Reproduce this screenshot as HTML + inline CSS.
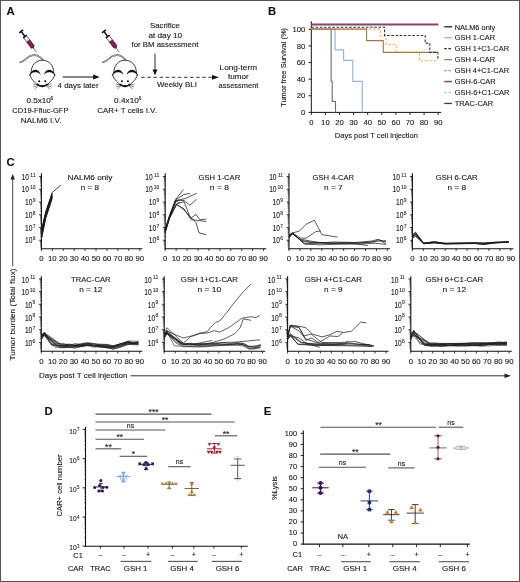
<!DOCTYPE html>
<html><head><meta charset="utf-8"><style>
html,body{margin:0;padding:0;background:#fff;}
svg{display:block;font-family:"Liberation Sans", sans-serif;will-change:transform;}
text{stroke:#1a1a1a;stroke-width:0.12px;}
</style></head><body>
<svg width="520" height="582" viewBox="0 0 520 582">
<rect width="520" height="582" fill="#fff"/>
<rect x="0.5" y="0.5" width="519" height="581" fill="none" stroke="#555" stroke-width="1"/>
<text x="6.6" y="15.4" font-size="11.3" text-anchor="start" font-weight="bold" fill="#111" >A</text>
<text x="268" y="15.2" font-size="11.3" text-anchor="start" font-weight="bold" fill="#111" >B</text>
<text x="6.6" y="165.5" font-size="11.3" text-anchor="start" font-weight="bold" fill="#111" >C</text>
<text x="44.6" y="414.6" font-size="11.3" text-anchor="start" font-weight="bold" fill="#111" >D</text>
<text x="263.8" y="414.6" font-size="11.3" text-anchor="start" font-weight="bold" fill="#111" >E</text>
<g transform="translate(21.2,31.4) rotate(53.53)"><line x1="0" y1="-2.4" x2="0" y2="2.4" stroke="#111" stroke-width="1.6"/><line x1="0" y1="0" x2="6.3" y2="0" stroke="#111" stroke-width="1.5"/><line x1="6.3" y1="-2.3" x2="6.3" y2="2.3" stroke="#111" stroke-width="1.4"/><rect x="6.9" y="-1.8" width="12.6" height="3.6" fill="#eef7f6" stroke="#2a2a2a" stroke-width="0.65"/><rect x="11.8" y="-1.8" width="7.7" height="3.6" fill="#8c1c55" stroke="#3a1025" stroke-width="0.5"/><path d="M19.5,-1.3 L21.2,-0.5 L21.2,0.5 L19.5,1.3 Z" fill="#333"/><line x1="21.2" y1="0" x2="25.8" y2="0" stroke="#333" stroke-width="0.65"/></g>
<g transform="translate(103.9,31.4) rotate(53.53)"><line x1="0" y1="-2.4" x2="0" y2="2.4" stroke="#111" stroke-width="1.6"/><line x1="0" y1="0" x2="6.3" y2="0" stroke="#111" stroke-width="1.5"/><line x1="6.3" y1="-2.3" x2="6.3" y2="2.3" stroke="#111" stroke-width="1.4"/><rect x="6.9" y="-1.8" width="12.6" height="3.6" fill="#eef7f6" stroke="#2a2a2a" stroke-width="0.65"/><rect x="11.8" y="-1.8" width="7.7" height="3.6" fill="#8c1c55" stroke="#3a1025" stroke-width="0.5"/><path d="M19.5,-1.3 L21.2,-0.5 L21.2,0.5 L19.5,1.3 Z" fill="#333"/><line x1="21.2" y1="0" x2="25.8" y2="0" stroke="#333" stroke-width="0.65"/></g>
<g transform="translate(0,0)" stroke-linecap="round"><path d="M20.1,62.2 C22.5,61.7 24.6,60.4 26.2,58.8 C27.8,57.2 29.8,55.9 32.2,55.4 C34.6,54.9 37,55.3 39,56.5 C40.6,57.4 42.1,58.9 43.6,60.7" fill="none" stroke="#4a4a4a" stroke-width="1.6"/><path d="M20.7,61.95 C22.5,61.7 24.6,60.4 26.2,58.8 C27.8,57.2 29.8,55.9 32.2,55.4 C34.6,54.9 37,55.3 39,56.5 C40.6,57.4 42.1,58.9 43.6,60.7" fill="none" stroke="#fff" stroke-width="0.6"/><path d="M31.1,73 C30.9,65.2 36,60.2 42.4,60.2 C48.8,60.2 53.9,65.2 53.7,73" fill="#fff" stroke="#1a1a1a" stroke-width="0.85"/><path d="M29.9,74.8 C30.2,77.8 33.2,80.7 36,83.5 C38,85.5 40.4,86.7 42.3,86.7 C44.3,86.7 46.7,85.5 48.7,83.4 C51.4,80.7 54.4,77.8 54.7,74.8 C50,73 35,73 29.9,74.8 Z" fill="#fff" stroke="none"/><path d="M29.9,74.8 C30.2,77.8 33.2,80.7 36,83.5 C38,85.5 40.4,86.7 42.3,86.7 C44.3,86.7 46.7,85.5 48.7,83.4 C51.4,80.7 54.4,77.8 54.7,74.8" fill="none" stroke="#1a1a1a" stroke-width="0.85"/><path d="M29.7,75.4 C30.1,71.6 33.8,69.5 36.4,70.1 C38.3,70.6 39.8,72.2 40.3,74.3 C38.9,72.7 37.1,71.9 35.2,72 C32.8,72.1 30.8,73.4 29.7,75.4 Z" fill="#111" stroke="#111" stroke-width="0.35"/><path d="M54.9,75.4 C54.5,71.6 50.8,69.5 48.2,70.1 C46.3,70.6 44.8,72.2 44.3,74.3 C45.7,72.7 47.5,71.9 49.4,72 C51.8,72.1 53.8,73.4 54.9,75.4 Z" fill="#111" stroke="#111" stroke-width="0.35"/><circle cx="39.2" cy="81.2" r="1.05" fill="#111"/><circle cx="45.2" cy="81.2" r="1.05" fill="#111"/><path d="M37.6,84.2 C39.8,86.6 44.8,86.6 47.0,84.2" fill="none" stroke="#111" stroke-width="1.5"/><circle cx="42.3" cy="86.2" r="1.15" fill="#111"/><g stroke="#222" stroke-width="0.55" fill="none"><path d="M38.0,84.8 L33.4,84.1 M38.0,85.3 L33.6,86.8 M38.4,85.8 L35.0,88.6"/><path d="M46.6,84.8 L51.2,84.1 M46.6,85.3 L51.0,86.8 M46.2,85.8 L49.6,88.6"/></g></g>
<g transform="translate(82.7,0)" stroke-linecap="round"><path d="M20.1,62.2 C22.5,61.7 24.6,60.4 26.2,58.8 C27.8,57.2 29.8,55.9 32.2,55.4 C34.6,54.9 37,55.3 39,56.5 C40.6,57.4 42.1,58.9 43.6,60.7" fill="none" stroke="#4a4a4a" stroke-width="1.6"/><path d="M20.7,61.95 C22.5,61.7 24.6,60.4 26.2,58.8 C27.8,57.2 29.8,55.9 32.2,55.4 C34.6,54.9 37,55.3 39,56.5 C40.6,57.4 42.1,58.9 43.6,60.7" fill="none" stroke="#fff" stroke-width="0.6"/><path d="M31.1,73 C30.9,65.2 36,60.2 42.4,60.2 C48.8,60.2 53.9,65.2 53.7,73" fill="#fff" stroke="#1a1a1a" stroke-width="0.85"/><path d="M29.9,74.8 C30.2,77.8 33.2,80.7 36,83.5 C38,85.5 40.4,86.7 42.3,86.7 C44.3,86.7 46.7,85.5 48.7,83.4 C51.4,80.7 54.4,77.8 54.7,74.8 C50,73 35,73 29.9,74.8 Z" fill="#fff" stroke="none"/><path d="M29.9,74.8 C30.2,77.8 33.2,80.7 36,83.5 C38,85.5 40.4,86.7 42.3,86.7 C44.3,86.7 46.7,85.5 48.7,83.4 C51.4,80.7 54.4,77.8 54.7,74.8" fill="none" stroke="#1a1a1a" stroke-width="0.85"/><path d="M29.7,75.4 C30.1,71.6 33.8,69.5 36.4,70.1 C38.3,70.6 39.8,72.2 40.3,74.3 C38.9,72.7 37.1,71.9 35.2,72 C32.8,72.1 30.8,73.4 29.7,75.4 Z" fill="#111" stroke="#111" stroke-width="0.35"/><path d="M54.9,75.4 C54.5,71.6 50.8,69.5 48.2,70.1 C46.3,70.6 44.8,72.2 44.3,74.3 C45.7,72.7 47.5,71.9 49.4,72 C51.8,72.1 53.8,73.4 54.9,75.4 Z" fill="#111" stroke="#111" stroke-width="0.35"/><circle cx="39.2" cy="81.2" r="1.05" fill="#111"/><circle cx="45.2" cy="81.2" r="1.05" fill="#111"/><path d="M37.6,84.2 C39.8,86.6 44.8,86.6 47.0,84.2" fill="none" stroke="#111" stroke-width="1.5"/><circle cx="42.3" cy="86.2" r="1.15" fill="#111"/><g stroke="#222" stroke-width="0.55" fill="none"><path d="M38.0,84.8 L33.4,84.1 M38.0,85.3 L33.6,86.8 M38.4,85.8 L35.0,88.6"/><path d="M46.6,84.8 L51.2,84.1 M46.6,85.3 L51.0,86.8 M46.2,85.8 L49.6,88.6"/></g></g>
<text x="26.4" y="103.4" font-size="7.8" text-anchor="start" font-weight="normal" fill="#1a1a1a"  textLength="24.5" lengthAdjust="spacingAndGlyphs">0.5x10</text>
<text x="50.5" y="100.2" font-size="4.8" text-anchor="start" font-weight="normal" fill="#1a1a1a" >6</text>
<text x="40.4" y="113.25" font-size="7.6" text-anchor="middle" font-weight="normal" fill="#1a1a1a"  textLength="56.1" lengthAdjust="spacingAndGlyphs">CD19-Ffluc-GFP</text>
<text x="41.1" y="122.6" font-size="7.6" text-anchor="middle" font-weight="normal" fill="#1a1a1a"  textLength="40.9" lengthAdjust="spacingAndGlyphs">NALM6 I.V.</text>
<line x1="62.7" y1="77" x2="95" y2="77" stroke="#111" stroke-width="1" />
<path d="M93.2,74.6 L99.7,77 L93.2,79.4 Z" fill="#111"/>
<text x="78.1" y="87.5" font-size="7.6" text-anchor="middle" font-weight="normal" fill="#1a1a1a"  textLength="41.1" lengthAdjust="spacingAndGlyphs">4 days later</text>
<text x="114.1" y="103.4" font-size="7.8" text-anchor="start" font-weight="normal" fill="#1a1a1a"  textLength="24.8" lengthAdjust="spacingAndGlyphs">0.4x10</text>
<text x="138.7" y="100.2" font-size="4.8" text-anchor="start" font-weight="normal" fill="#1a1a1a" >6</text>
<text x="127.1" y="113" font-size="7.6" text-anchor="middle" font-weight="normal" fill="#1a1a1a"  textLength="59.6" lengthAdjust="spacingAndGlyphs">CAR+ T cells I.V.</text>
<text x="165" y="28.1" font-size="7.6" text-anchor="middle" font-weight="normal" fill="#1a1a1a"  textLength="29.9" lengthAdjust="spacingAndGlyphs">Sacrifice</text>
<text x="165.3" y="37.8" font-size="7.6" text-anchor="middle" font-weight="normal" fill="#1a1a1a"  textLength="33.8" lengthAdjust="spacingAndGlyphs">at day 10</text>
<text x="165" y="47.3" font-size="7.6" text-anchor="middle" font-weight="normal" fill="#1a1a1a"  textLength="66.9" lengthAdjust="spacingAndGlyphs">for BM assessment</text>
<line x1="155" y1="53.5" x2="155" y2="71" stroke="#111" stroke-width="0.9" />
<path d="M152.5,69.5 L155,75.5 L157.5,69.5 Z" fill="#111"/>
<line x1="141.2" y1="77.3" x2="213" y2="77.3" stroke="#222" stroke-width="0.9" stroke-dasharray="3.6 2.5"/>
<path d="M212,74.9 L219,77.3 L212,79.7 Z" fill="#111"/>
<text x="176.9" y="87.3" font-size="7.6" text-anchor="middle" font-weight="normal" fill="#1a1a1a"  textLength="39.9" lengthAdjust="spacingAndGlyphs">Weekly BLI</text>
<text x="238.3" y="69.8" font-size="7.6" text-anchor="middle" font-weight="normal" fill="#1a1a1a"  textLength="37.4" lengthAdjust="spacingAndGlyphs">Long-term</text>
<text x="238.4" y="79.2" font-size="7.6" text-anchor="middle" font-weight="normal" fill="#1a1a1a"  textLength="20.8" lengthAdjust="spacingAndGlyphs">tumor</text>
<text x="238.5" y="88" font-size="7.6" text-anchor="middle" font-weight="normal" fill="#1a1a1a"  textLength="39.8" lengthAdjust="spacingAndGlyphs">assessment</text>
<line x1="311.3" y1="21.3" x2="311.3" y2="112.9" stroke="#111" stroke-width="1" />
<line x1="310.8" y1="112.4" x2="441.2" y2="112.4" stroke="#111" stroke-width="1" />
<line x1="308.5" y1="112.4" x2="311.3" y2="112.4" stroke="#111" stroke-width="0.9" />
<text x="305.3" y="115.1" font-size="7.7" text-anchor="end" font-weight="normal" fill="#1a1a1a" >0</text>
<line x1="308.5" y1="95.78" x2="311.3" y2="95.78" stroke="#111" stroke-width="0.9" />
<text x="305.3" y="98.48" font-size="7.7" text-anchor="end" font-weight="normal" fill="#1a1a1a" >20</text>
<line x1="308.5" y1="79.16" x2="311.3" y2="79.16" stroke="#111" stroke-width="0.9" />
<text x="305.3" y="81.86" font-size="7.7" text-anchor="end" font-weight="normal" fill="#1a1a1a" >40</text>
<line x1="308.5" y1="62.54" x2="311.3" y2="62.54" stroke="#111" stroke-width="0.9" />
<text x="305.3" y="65.24" font-size="7.7" text-anchor="end" font-weight="normal" fill="#1a1a1a" >60</text>
<line x1="308.5" y1="45.92" x2="311.3" y2="45.92" stroke="#111" stroke-width="0.9" />
<text x="305.3" y="48.62" font-size="7.7" text-anchor="end" font-weight="normal" fill="#1a1a1a" >80</text>
<line x1="308.5" y1="29.3" x2="311.3" y2="29.3" stroke="#111" stroke-width="0.9" />
<text x="305.3" y="32" font-size="7.7" text-anchor="end" font-weight="normal" fill="#1a1a1a" >100</text>
<line x1="311.3" y1="112.4" x2="311.3" y2="115" stroke="#111" stroke-width="0.9" />
<text x="311.3" y="125.2" font-size="7.7" text-anchor="middle" font-weight="normal" fill="#1a1a1a" >0</text>
<line x1="325.4" y1="112.4" x2="325.4" y2="115" stroke="#111" stroke-width="0.9" />
<text x="325.4" y="125.2" font-size="7.7" text-anchor="middle" font-weight="normal" fill="#1a1a1a" >10</text>
<line x1="339.5" y1="112.4" x2="339.5" y2="115" stroke="#111" stroke-width="0.9" />
<text x="339.5" y="125.2" font-size="7.7" text-anchor="middle" font-weight="normal" fill="#1a1a1a" >20</text>
<line x1="353.6" y1="112.4" x2="353.6" y2="115" stroke="#111" stroke-width="0.9" />
<text x="353.6" y="125.2" font-size="7.7" text-anchor="middle" font-weight="normal" fill="#1a1a1a" >30</text>
<line x1="367.7" y1="112.4" x2="367.7" y2="115" stroke="#111" stroke-width="0.9" />
<text x="367.7" y="125.2" font-size="7.7" text-anchor="middle" font-weight="normal" fill="#1a1a1a" >40</text>
<line x1="381.8" y1="112.4" x2="381.8" y2="115" stroke="#111" stroke-width="0.9" />
<text x="381.8" y="125.2" font-size="7.7" text-anchor="middle" font-weight="normal" fill="#1a1a1a" >50</text>
<line x1="395.9" y1="112.4" x2="395.9" y2="115" stroke="#111" stroke-width="0.9" />
<text x="395.9" y="125.2" font-size="7.7" text-anchor="middle" font-weight="normal" fill="#1a1a1a" >60</text>
<line x1="410" y1="112.4" x2="410" y2="115" stroke="#111" stroke-width="0.9" />
<text x="410" y="125.2" font-size="7.7" text-anchor="middle" font-weight="normal" fill="#1a1a1a" >70</text>
<line x1="424.1" y1="112.4" x2="424.1" y2="115" stroke="#111" stroke-width="0.9" />
<text x="424.1" y="125.2" font-size="7.7" text-anchor="middle" font-weight="normal" fill="#1a1a1a" >80</text>
<line x1="438.2" y1="112.4" x2="438.2" y2="115" stroke="#111" stroke-width="0.9" />
<text x="438.2" y="125.2" font-size="7.7" text-anchor="middle" font-weight="normal" fill="#1a1a1a" >90</text>
<text transform="translate(285.6,67.4) rotate(-90)" font-size="7.9" text-anchor="middle" fill="#1a1a1a" textLength="79" lengthAdjust="spacingAndGlyphs">Tumor free Survival (%)</text>
<text x="376.4" y="138" font-size="7.9" text-anchor="middle" font-weight="normal" fill="#1a1a1a"  textLength="83.1" lengthAdjust="spacingAndGlyphs">Days post T cell injection</text>
<polyline points="311.3,29 331.1,29 331.1,81.3 332.2,81.3 332.2,101.5 335.5,101.5 335.5,112.4" fill="none" stroke="#6d6d6d" stroke-width="1.1" stroke-linejoin="round" />
<polyline points="311.3,29 335.1,29 335.1,49.9 343.6,49.9 343.6,60.3 352.8,60.3 352.8,81.3 362.3,81.3 362.3,112.4" fill="none" stroke="#98b3da" stroke-width="1.2" stroke-linejoin="round" />
<polyline points="311.3,29.1 380.4,29.1 380.4,36.2 386,36.2 386,44.5 396.2,44.5 396.2,52.4 419.5,52.4 419.5,60.8 437.8,60.8" fill="none" stroke="#e8b365" stroke-width="1.1" stroke-linejoin="round" stroke-dasharray="2.6 1.8"/>
<polyline points="311.3,29.1 366.6,29.1 366.6,40.6 383.3,40.6 383.3,52.4 438,52.4" fill="none" stroke="#a57a45" stroke-width="1.1" stroke-linejoin="round" />
<polyline points="311.3,27.3 384.6,27.3 384.6,35.5 425.2,35.5 425.2,43.1 429.8,43.1 429.8,52.4 437.9,52.4 437.9,60.4" fill="none" stroke="#2d3150" stroke-width="1.1" stroke-linejoin="round" stroke-dasharray="2.6 1.6"/>
<polyline points="311.3,24.4 438.4,24.4" fill="none" stroke="#8a4468" stroke-width="2.0" stroke-linejoin="round" />
<line x1="444.2" y1="26.8" x2="452" y2="26.8" stroke="#222" stroke-width="1.3" />
<text x="454.7" y="29.5" font-size="7.45" text-anchor="start" font-weight="normal" fill="#1a1a1a" >NALM6 only</text>
<line x1="444.2" y1="37.75" x2="452" y2="37.75" stroke="#98b3da" stroke-width="1.3" />
<text x="454.7" y="40.45" font-size="7.45" text-anchor="start" font-weight="normal" fill="#1a1a1a" >GSH 1-CAR</text>
<line x1="444.2" y1="48.7" x2="452" y2="48.7" stroke="#2d3150" stroke-width="1.3" stroke-dasharray="2.6 1.6"/>
<text x="454.7" y="51.4" font-size="7.45" text-anchor="start" font-weight="normal" fill="#1a1a1a" >GSH 1+C1-CAR</text>
<line x1="444.2" y1="59.65" x2="452" y2="59.65" stroke="#9a8268" stroke-width="1.3" />
<text x="454.7" y="62.35" font-size="7.45" text-anchor="start" font-weight="normal" fill="#1a1a1a" >GSH 4-CAR</text>
<line x1="444.2" y1="70.6" x2="452" y2="70.6" stroke="#c39a6e" stroke-width="1.3" stroke-dasharray="2.6 1.6"/>
<text x="454.7" y="73.3" font-size="7.45" text-anchor="start" font-weight="normal" fill="#1a1a1a" >GSH 4+C1-CAR</text>
<line x1="444.2" y1="81.55" x2="452" y2="81.55" stroke="#8a4468" stroke-width="1.5" />
<text x="454.7" y="84.25" font-size="7.45" text-anchor="start" font-weight="normal" fill="#1a1a1a" >GSH-6-CAR</text>
<line x1="444.2" y1="92.5" x2="452" y2="92.5" stroke="#c8c8c8" stroke-width="1.3" stroke-dasharray="2.6 1.6"/>
<text x="454.7" y="95.2" font-size="7.45" text-anchor="start" font-weight="normal" fill="#1a1a1a" >GSH-6+C1-CAR</text>
<line x1="444.2" y1="103.45" x2="452" y2="103.45" stroke="#3a3a3a" stroke-width="1.3" />
<text x="454.7" y="106.15" font-size="7.45" text-anchor="start" font-weight="normal" fill="#1a1a1a" >TRAC-CAR</text>
<line x1="41.4" y1="173.2" x2="41.4" y2="249.2" stroke="#111" stroke-width="1.1" />
<line x1="40.9" y1="248.7" x2="142.4" y2="248.7" stroke="#111" stroke-width="1.1" />
<line x1="41.4" y1="248.7" x2="41.4" y2="251" stroke="#111" stroke-width="0.8" />
<text x="41.4" y="261.3" font-size="7.8" text-anchor="middle" font-weight="normal" fill="#1a1a1a" >0</text>
<line x1="52.33" y1="248.7" x2="52.33" y2="251" stroke="#111" stroke-width="0.8" />
<text x="52.33" y="261.3" font-size="7.8" text-anchor="middle" font-weight="normal" fill="#1a1a1a" >10</text>
<line x1="63.26" y1="248.7" x2="63.26" y2="251" stroke="#111" stroke-width="0.8" />
<text x="63.26" y="261.3" font-size="7.8" text-anchor="middle" font-weight="normal" fill="#1a1a1a" >20</text>
<line x1="74.19" y1="248.7" x2="74.19" y2="251" stroke="#111" stroke-width="0.8" />
<text x="74.19" y="261.3" font-size="7.8" text-anchor="middle" font-weight="normal" fill="#1a1a1a" >30</text>
<line x1="85.12" y1="248.7" x2="85.12" y2="251" stroke="#111" stroke-width="0.8" />
<text x="85.12" y="261.3" font-size="7.8" text-anchor="middle" font-weight="normal" fill="#1a1a1a" >40</text>
<line x1="96.05" y1="248.7" x2="96.05" y2="251" stroke="#111" stroke-width="0.8" />
<text x="96.05" y="261.3" font-size="7.8" text-anchor="middle" font-weight="normal" fill="#1a1a1a" >50</text>
<line x1="106.98" y1="248.7" x2="106.98" y2="251" stroke="#111" stroke-width="0.8" />
<text x="106.98" y="261.3" font-size="7.8" text-anchor="middle" font-weight="normal" fill="#1a1a1a" >60</text>
<line x1="117.91" y1="248.7" x2="117.91" y2="251" stroke="#111" stroke-width="0.8" />
<text x="117.91" y="261.3" font-size="7.8" text-anchor="middle" font-weight="normal" fill="#1a1a1a" >70</text>
<line x1="128.84" y1="248.7" x2="128.84" y2="251" stroke="#111" stroke-width="0.8" />
<text x="128.84" y="261.3" font-size="7.8" text-anchor="middle" font-weight="normal" fill="#1a1a1a" >80</text>
<line x1="139.77" y1="248.7" x2="139.77" y2="251" stroke="#111" stroke-width="0.8" />
<text x="139.77" y="261.3" font-size="7.8" text-anchor="middle" font-weight="normal" fill="#1a1a1a" >90</text>
<line x1="40" y1="246.92" x2="41.4" y2="246.92" stroke="#222" stroke-width="0.55" />
<line x1="40" y1="245.32" x2="41.4" y2="245.32" stroke="#222" stroke-width="0.55" />
<line x1="40" y1="244.09" x2="41.4" y2="244.09" stroke="#222" stroke-width="0.55" />
<line x1="40" y1="243.08" x2="41.4" y2="243.08" stroke="#222" stroke-width="0.55" />
<line x1="40" y1="242.22" x2="41.4" y2="242.22" stroke="#222" stroke-width="0.55" />
<line x1="40" y1="241.49" x2="41.4" y2="241.49" stroke="#222" stroke-width="0.55" />
<line x1="40" y1="240.83" x2="41.4" y2="240.83" stroke="#222" stroke-width="0.55" />
<line x1="39" y1="240.25" x2="41.4" y2="240.25" stroke="#111" stroke-width="0.8" />
<line x1="40" y1="236.41" x2="41.4" y2="236.41" stroke="#222" stroke-width="0.55" />
<line x1="40" y1="234.17" x2="41.4" y2="234.17" stroke="#222" stroke-width="0.55" />
<line x1="40" y1="232.57" x2="41.4" y2="232.57" stroke="#222" stroke-width="0.55" />
<line x1="40" y1="231.34" x2="41.4" y2="231.34" stroke="#222" stroke-width="0.55" />
<line x1="40" y1="230.33" x2="41.4" y2="230.33" stroke="#222" stroke-width="0.55" />
<line x1="40" y1="229.47" x2="41.4" y2="229.47" stroke="#222" stroke-width="0.55" />
<line x1="40" y1="228.74" x2="41.4" y2="228.74" stroke="#222" stroke-width="0.55" />
<line x1="40" y1="228.08" x2="41.4" y2="228.08" stroke="#222" stroke-width="0.55" />
<line x1="39" y1="227.5" x2="41.4" y2="227.5" stroke="#111" stroke-width="0.8" />
<line x1="40" y1="223.66" x2="41.4" y2="223.66" stroke="#222" stroke-width="0.55" />
<line x1="40" y1="221.42" x2="41.4" y2="221.42" stroke="#222" stroke-width="0.55" />
<line x1="40" y1="219.82" x2="41.4" y2="219.82" stroke="#222" stroke-width="0.55" />
<line x1="40" y1="218.59" x2="41.4" y2="218.59" stroke="#222" stroke-width="0.55" />
<line x1="40" y1="217.58" x2="41.4" y2="217.58" stroke="#222" stroke-width="0.55" />
<line x1="40" y1="216.72" x2="41.4" y2="216.72" stroke="#222" stroke-width="0.55" />
<line x1="40" y1="215.99" x2="41.4" y2="215.99" stroke="#222" stroke-width="0.55" />
<line x1="40" y1="215.33" x2="41.4" y2="215.33" stroke="#222" stroke-width="0.55" />
<line x1="39" y1="214.75" x2="41.4" y2="214.75" stroke="#111" stroke-width="0.8" />
<line x1="40" y1="210.91" x2="41.4" y2="210.91" stroke="#222" stroke-width="0.55" />
<line x1="40" y1="208.67" x2="41.4" y2="208.67" stroke="#222" stroke-width="0.55" />
<line x1="40" y1="207.07" x2="41.4" y2="207.07" stroke="#222" stroke-width="0.55" />
<line x1="40" y1="205.84" x2="41.4" y2="205.84" stroke="#222" stroke-width="0.55" />
<line x1="40" y1="204.83" x2="41.4" y2="204.83" stroke="#222" stroke-width="0.55" />
<line x1="40" y1="203.97" x2="41.4" y2="203.97" stroke="#222" stroke-width="0.55" />
<line x1="40" y1="203.24" x2="41.4" y2="203.24" stroke="#222" stroke-width="0.55" />
<line x1="40" y1="202.58" x2="41.4" y2="202.58" stroke="#222" stroke-width="0.55" />
<line x1="39" y1="202" x2="41.4" y2="202" stroke="#111" stroke-width="0.8" />
<line x1="40" y1="198.16" x2="41.4" y2="198.16" stroke="#222" stroke-width="0.55" />
<line x1="40" y1="195.92" x2="41.4" y2="195.92" stroke="#222" stroke-width="0.55" />
<line x1="40" y1="194.32" x2="41.4" y2="194.32" stroke="#222" stroke-width="0.55" />
<line x1="40" y1="193.09" x2="41.4" y2="193.09" stroke="#222" stroke-width="0.55" />
<line x1="40" y1="192.08" x2="41.4" y2="192.08" stroke="#222" stroke-width="0.55" />
<line x1="40" y1="191.22" x2="41.4" y2="191.22" stroke="#222" stroke-width="0.55" />
<line x1="40" y1="190.49" x2="41.4" y2="190.49" stroke="#222" stroke-width="0.55" />
<line x1="40" y1="189.83" x2="41.4" y2="189.83" stroke="#222" stroke-width="0.55" />
<line x1="39" y1="189.25" x2="41.4" y2="189.25" stroke="#111" stroke-width="0.8" />
<line x1="40" y1="185.41" x2="41.4" y2="185.41" stroke="#222" stroke-width="0.55" />
<line x1="40" y1="183.17" x2="41.4" y2="183.17" stroke="#222" stroke-width="0.55" />
<line x1="40" y1="181.57" x2="41.4" y2="181.57" stroke="#222" stroke-width="0.55" />
<line x1="40" y1="180.34" x2="41.4" y2="180.34" stroke="#222" stroke-width="0.55" />
<line x1="40" y1="179.33" x2="41.4" y2="179.33" stroke="#222" stroke-width="0.55" />
<line x1="40" y1="178.47" x2="41.4" y2="178.47" stroke="#222" stroke-width="0.55" />
<line x1="40" y1="177.74" x2="41.4" y2="177.74" stroke="#222" stroke-width="0.55" />
<line x1="40" y1="177.08" x2="41.4" y2="177.08" stroke="#222" stroke-width="0.55" />
<line x1="39" y1="176.5" x2="41.4" y2="176.5" stroke="#111" stroke-width="0.8" />
<text x="35.5" y="240.35" font-size="5.0" text-anchor="end" fill="#1a1a1a" style="stroke-width:0.08px">6</text>
<text x="32.42" y="243.45" font-size="8.4" text-anchor="end" fill="#1a1a1a" textLength="7.4" lengthAdjust="spacingAndGlyphs">10</text>
<text x="35.5" y="227.6" font-size="5.0" text-anchor="end" fill="#1a1a1a" style="stroke-width:0.08px">7</text>
<text x="32.42" y="230.7" font-size="8.4" text-anchor="end" fill="#1a1a1a" textLength="7.4" lengthAdjust="spacingAndGlyphs">10</text>
<text x="35.5" y="214.85" font-size="5.0" text-anchor="end" fill="#1a1a1a" style="stroke-width:0.08px">8</text>
<text x="32.42" y="217.95" font-size="8.4" text-anchor="end" fill="#1a1a1a" textLength="7.4" lengthAdjust="spacingAndGlyphs">10</text>
<text x="35.5" y="202.1" font-size="5.0" text-anchor="end" fill="#1a1a1a" style="stroke-width:0.08px">9</text>
<text x="32.42" y="205.2" font-size="8.4" text-anchor="end" fill="#1a1a1a" textLength="7.4" lengthAdjust="spacingAndGlyphs">10</text>
<text x="35.5" y="189.35" font-size="5.0" text-anchor="end" fill="#1a1a1a" style="stroke-width:0.08px">10</text>
<text x="28.94" y="192.45" font-size="8.4" text-anchor="end" fill="#1a1a1a" textLength="7.4" lengthAdjust="spacingAndGlyphs">10</text>
<text x="35.5" y="176.6" font-size="5.0" text-anchor="end" fill="#1a1a1a" style="stroke-width:0.08px">11</text>
<text x="28.94" y="179.7" font-size="8.4" text-anchor="end" fill="#1a1a1a" textLength="7.4" lengthAdjust="spacingAndGlyphs">10</text>
<text x="89.9" y="179.7" font-size="7.3" text-anchor="middle" font-weight="normal" fill="#1a1a1a"  textLength="44.8" lengthAdjust="spacingAndGlyphs">NALM6 only</text>
<text x="89.9" y="189.5" font-size="7.3" text-anchor="middle" font-weight="normal" fill="#1a1a1a"  textLength="18.2" lengthAdjust="spacingAndGlyphs">n = 8</text>
<line x1="165.2" y1="173.2" x2="165.2" y2="249.2" stroke="#111" stroke-width="1.1" />
<line x1="164.7" y1="248.7" x2="266.2" y2="248.7" stroke="#111" stroke-width="1.1" />
<line x1="165.2" y1="248.7" x2="165.2" y2="251" stroke="#111" stroke-width="0.8" />
<text x="165.2" y="261.3" font-size="7.8" text-anchor="middle" font-weight="normal" fill="#1a1a1a" >0</text>
<line x1="176.13" y1="248.7" x2="176.13" y2="251" stroke="#111" stroke-width="0.8" />
<text x="176.13" y="261.3" font-size="7.8" text-anchor="middle" font-weight="normal" fill="#1a1a1a" >10</text>
<line x1="187.06" y1="248.7" x2="187.06" y2="251" stroke="#111" stroke-width="0.8" />
<text x="187.06" y="261.3" font-size="7.8" text-anchor="middle" font-weight="normal" fill="#1a1a1a" >20</text>
<line x1="197.99" y1="248.7" x2="197.99" y2="251" stroke="#111" stroke-width="0.8" />
<text x="197.99" y="261.3" font-size="7.8" text-anchor="middle" font-weight="normal" fill="#1a1a1a" >30</text>
<line x1="208.92" y1="248.7" x2="208.92" y2="251" stroke="#111" stroke-width="0.8" />
<text x="208.92" y="261.3" font-size="7.8" text-anchor="middle" font-weight="normal" fill="#1a1a1a" >40</text>
<line x1="219.85" y1="248.7" x2="219.85" y2="251" stroke="#111" stroke-width="0.8" />
<text x="219.85" y="261.3" font-size="7.8" text-anchor="middle" font-weight="normal" fill="#1a1a1a" >50</text>
<line x1="230.78" y1="248.7" x2="230.78" y2="251" stroke="#111" stroke-width="0.8" />
<text x="230.78" y="261.3" font-size="7.8" text-anchor="middle" font-weight="normal" fill="#1a1a1a" >60</text>
<line x1="241.71" y1="248.7" x2="241.71" y2="251" stroke="#111" stroke-width="0.8" />
<text x="241.71" y="261.3" font-size="7.8" text-anchor="middle" font-weight="normal" fill="#1a1a1a" >70</text>
<line x1="252.64" y1="248.7" x2="252.64" y2="251" stroke="#111" stroke-width="0.8" />
<text x="252.64" y="261.3" font-size="7.8" text-anchor="middle" font-weight="normal" fill="#1a1a1a" >80</text>
<line x1="263.57" y1="248.7" x2="263.57" y2="251" stroke="#111" stroke-width="0.8" />
<text x="263.57" y="261.3" font-size="7.8" text-anchor="middle" font-weight="normal" fill="#1a1a1a" >90</text>
<line x1="163.8" y1="246.92" x2="165.2" y2="246.92" stroke="#222" stroke-width="0.55" />
<line x1="163.8" y1="245.32" x2="165.2" y2="245.32" stroke="#222" stroke-width="0.55" />
<line x1="163.8" y1="244.09" x2="165.2" y2="244.09" stroke="#222" stroke-width="0.55" />
<line x1="163.8" y1="243.08" x2="165.2" y2="243.08" stroke="#222" stroke-width="0.55" />
<line x1="163.8" y1="242.22" x2="165.2" y2="242.22" stroke="#222" stroke-width="0.55" />
<line x1="163.8" y1="241.49" x2="165.2" y2="241.49" stroke="#222" stroke-width="0.55" />
<line x1="163.8" y1="240.83" x2="165.2" y2="240.83" stroke="#222" stroke-width="0.55" />
<line x1="162.8" y1="240.25" x2="165.2" y2="240.25" stroke="#111" stroke-width="0.8" />
<line x1="163.8" y1="236.41" x2="165.2" y2="236.41" stroke="#222" stroke-width="0.55" />
<line x1="163.8" y1="234.17" x2="165.2" y2="234.17" stroke="#222" stroke-width="0.55" />
<line x1="163.8" y1="232.57" x2="165.2" y2="232.57" stroke="#222" stroke-width="0.55" />
<line x1="163.8" y1="231.34" x2="165.2" y2="231.34" stroke="#222" stroke-width="0.55" />
<line x1="163.8" y1="230.33" x2="165.2" y2="230.33" stroke="#222" stroke-width="0.55" />
<line x1="163.8" y1="229.47" x2="165.2" y2="229.47" stroke="#222" stroke-width="0.55" />
<line x1="163.8" y1="228.74" x2="165.2" y2="228.74" stroke="#222" stroke-width="0.55" />
<line x1="163.8" y1="228.08" x2="165.2" y2="228.08" stroke="#222" stroke-width="0.55" />
<line x1="162.8" y1="227.5" x2="165.2" y2="227.5" stroke="#111" stroke-width="0.8" />
<line x1="163.8" y1="223.66" x2="165.2" y2="223.66" stroke="#222" stroke-width="0.55" />
<line x1="163.8" y1="221.42" x2="165.2" y2="221.42" stroke="#222" stroke-width="0.55" />
<line x1="163.8" y1="219.82" x2="165.2" y2="219.82" stroke="#222" stroke-width="0.55" />
<line x1="163.8" y1="218.59" x2="165.2" y2="218.59" stroke="#222" stroke-width="0.55" />
<line x1="163.8" y1="217.58" x2="165.2" y2="217.58" stroke="#222" stroke-width="0.55" />
<line x1="163.8" y1="216.72" x2="165.2" y2="216.72" stroke="#222" stroke-width="0.55" />
<line x1="163.8" y1="215.99" x2="165.2" y2="215.99" stroke="#222" stroke-width="0.55" />
<line x1="163.8" y1="215.33" x2="165.2" y2="215.33" stroke="#222" stroke-width="0.55" />
<line x1="162.8" y1="214.75" x2="165.2" y2="214.75" stroke="#111" stroke-width="0.8" />
<line x1="163.8" y1="210.91" x2="165.2" y2="210.91" stroke="#222" stroke-width="0.55" />
<line x1="163.8" y1="208.67" x2="165.2" y2="208.67" stroke="#222" stroke-width="0.55" />
<line x1="163.8" y1="207.07" x2="165.2" y2="207.07" stroke="#222" stroke-width="0.55" />
<line x1="163.8" y1="205.84" x2="165.2" y2="205.84" stroke="#222" stroke-width="0.55" />
<line x1="163.8" y1="204.83" x2="165.2" y2="204.83" stroke="#222" stroke-width="0.55" />
<line x1="163.8" y1="203.97" x2="165.2" y2="203.97" stroke="#222" stroke-width="0.55" />
<line x1="163.8" y1="203.24" x2="165.2" y2="203.24" stroke="#222" stroke-width="0.55" />
<line x1="163.8" y1="202.58" x2="165.2" y2="202.58" stroke="#222" stroke-width="0.55" />
<line x1="162.8" y1="202" x2="165.2" y2="202" stroke="#111" stroke-width="0.8" />
<line x1="163.8" y1="198.16" x2="165.2" y2="198.16" stroke="#222" stroke-width="0.55" />
<line x1="163.8" y1="195.92" x2="165.2" y2="195.92" stroke="#222" stroke-width="0.55" />
<line x1="163.8" y1="194.32" x2="165.2" y2="194.32" stroke="#222" stroke-width="0.55" />
<line x1="163.8" y1="193.09" x2="165.2" y2="193.09" stroke="#222" stroke-width="0.55" />
<line x1="163.8" y1="192.08" x2="165.2" y2="192.08" stroke="#222" stroke-width="0.55" />
<line x1="163.8" y1="191.22" x2="165.2" y2="191.22" stroke="#222" stroke-width="0.55" />
<line x1="163.8" y1="190.49" x2="165.2" y2="190.49" stroke="#222" stroke-width="0.55" />
<line x1="163.8" y1="189.83" x2="165.2" y2="189.83" stroke="#222" stroke-width="0.55" />
<line x1="162.8" y1="189.25" x2="165.2" y2="189.25" stroke="#111" stroke-width="0.8" />
<line x1="163.8" y1="185.41" x2="165.2" y2="185.41" stroke="#222" stroke-width="0.55" />
<line x1="163.8" y1="183.17" x2="165.2" y2="183.17" stroke="#222" stroke-width="0.55" />
<line x1="163.8" y1="181.57" x2="165.2" y2="181.57" stroke="#222" stroke-width="0.55" />
<line x1="163.8" y1="180.34" x2="165.2" y2="180.34" stroke="#222" stroke-width="0.55" />
<line x1="163.8" y1="179.33" x2="165.2" y2="179.33" stroke="#222" stroke-width="0.55" />
<line x1="163.8" y1="178.47" x2="165.2" y2="178.47" stroke="#222" stroke-width="0.55" />
<line x1="163.8" y1="177.74" x2="165.2" y2="177.74" stroke="#222" stroke-width="0.55" />
<line x1="163.8" y1="177.08" x2="165.2" y2="177.08" stroke="#222" stroke-width="0.55" />
<line x1="162.8" y1="176.5" x2="165.2" y2="176.5" stroke="#111" stroke-width="0.8" />
<text x="159.3" y="240.35" font-size="5.0" text-anchor="end" fill="#1a1a1a" style="stroke-width:0.08px">6</text>
<text x="156.22" y="243.45" font-size="8.4" text-anchor="end" fill="#1a1a1a" textLength="7.4" lengthAdjust="spacingAndGlyphs">10</text>
<text x="159.3" y="227.6" font-size="5.0" text-anchor="end" fill="#1a1a1a" style="stroke-width:0.08px">7</text>
<text x="156.22" y="230.7" font-size="8.4" text-anchor="end" fill="#1a1a1a" textLength="7.4" lengthAdjust="spacingAndGlyphs">10</text>
<text x="159.3" y="214.85" font-size="5.0" text-anchor="end" fill="#1a1a1a" style="stroke-width:0.08px">8</text>
<text x="156.22" y="217.95" font-size="8.4" text-anchor="end" fill="#1a1a1a" textLength="7.4" lengthAdjust="spacingAndGlyphs">10</text>
<text x="159.3" y="202.1" font-size="5.0" text-anchor="end" fill="#1a1a1a" style="stroke-width:0.08px">9</text>
<text x="156.22" y="205.2" font-size="8.4" text-anchor="end" fill="#1a1a1a" textLength="7.4" lengthAdjust="spacingAndGlyphs">10</text>
<text x="159.3" y="189.35" font-size="5.0" text-anchor="end" fill="#1a1a1a" style="stroke-width:0.08px">10</text>
<text x="152.74" y="192.45" font-size="8.4" text-anchor="end" fill="#1a1a1a" textLength="7.4" lengthAdjust="spacingAndGlyphs">10</text>
<text x="159.3" y="176.6" font-size="5.0" text-anchor="end" fill="#1a1a1a" style="stroke-width:0.08px">11</text>
<text x="152.74" y="179.7" font-size="8.4" text-anchor="end" fill="#1a1a1a" textLength="7.4" lengthAdjust="spacingAndGlyphs">10</text>
<text x="219.4" y="179.7" font-size="7.3" text-anchor="middle" font-weight="normal" fill="#1a1a1a"  textLength="41.7" lengthAdjust="spacingAndGlyphs">GSH 1-CAR</text>
<text x="219.4" y="189.5" font-size="7.3" text-anchor="middle" font-weight="normal" fill="#1a1a1a"  textLength="19.1" lengthAdjust="spacingAndGlyphs">n = 8</text>
<line x1="289" y1="173.2" x2="289" y2="249.2" stroke="#111" stroke-width="1.1" />
<line x1="288.5" y1="248.7" x2="390" y2="248.7" stroke="#111" stroke-width="1.1" />
<line x1="289" y1="248.7" x2="289" y2="251" stroke="#111" stroke-width="0.8" />
<text x="289" y="261.3" font-size="7.8" text-anchor="middle" font-weight="normal" fill="#1a1a1a" >0</text>
<line x1="299.93" y1="248.7" x2="299.93" y2="251" stroke="#111" stroke-width="0.8" />
<text x="299.93" y="261.3" font-size="7.8" text-anchor="middle" font-weight="normal" fill="#1a1a1a" >10</text>
<line x1="310.86" y1="248.7" x2="310.86" y2="251" stroke="#111" stroke-width="0.8" />
<text x="310.86" y="261.3" font-size="7.8" text-anchor="middle" font-weight="normal" fill="#1a1a1a" >20</text>
<line x1="321.79" y1="248.7" x2="321.79" y2="251" stroke="#111" stroke-width="0.8" />
<text x="321.79" y="261.3" font-size="7.8" text-anchor="middle" font-weight="normal" fill="#1a1a1a" >30</text>
<line x1="332.72" y1="248.7" x2="332.72" y2="251" stroke="#111" stroke-width="0.8" />
<text x="332.72" y="261.3" font-size="7.8" text-anchor="middle" font-weight="normal" fill="#1a1a1a" >40</text>
<line x1="343.65" y1="248.7" x2="343.65" y2="251" stroke="#111" stroke-width="0.8" />
<text x="343.65" y="261.3" font-size="7.8" text-anchor="middle" font-weight="normal" fill="#1a1a1a" >50</text>
<line x1="354.58" y1="248.7" x2="354.58" y2="251" stroke="#111" stroke-width="0.8" />
<text x="354.58" y="261.3" font-size="7.8" text-anchor="middle" font-weight="normal" fill="#1a1a1a" >60</text>
<line x1="365.51" y1="248.7" x2="365.51" y2="251" stroke="#111" stroke-width="0.8" />
<text x="365.51" y="261.3" font-size="7.8" text-anchor="middle" font-weight="normal" fill="#1a1a1a" >70</text>
<line x1="376.44" y1="248.7" x2="376.44" y2="251" stroke="#111" stroke-width="0.8" />
<text x="376.44" y="261.3" font-size="7.8" text-anchor="middle" font-weight="normal" fill="#1a1a1a" >80</text>
<line x1="387.37" y1="248.7" x2="387.37" y2="251" stroke="#111" stroke-width="0.8" />
<text x="387.37" y="261.3" font-size="7.8" text-anchor="middle" font-weight="normal" fill="#1a1a1a" >90</text>
<line x1="287.6" y1="246.92" x2="289" y2="246.92" stroke="#222" stroke-width="0.55" />
<line x1="287.6" y1="245.32" x2="289" y2="245.32" stroke="#222" stroke-width="0.55" />
<line x1="287.6" y1="244.09" x2="289" y2="244.09" stroke="#222" stroke-width="0.55" />
<line x1="287.6" y1="243.08" x2="289" y2="243.08" stroke="#222" stroke-width="0.55" />
<line x1="287.6" y1="242.22" x2="289" y2="242.22" stroke="#222" stroke-width="0.55" />
<line x1="287.6" y1="241.49" x2="289" y2="241.49" stroke="#222" stroke-width="0.55" />
<line x1="287.6" y1="240.83" x2="289" y2="240.83" stroke="#222" stroke-width="0.55" />
<line x1="286.6" y1="240.25" x2="289" y2="240.25" stroke="#111" stroke-width="0.8" />
<line x1="287.6" y1="236.41" x2="289" y2="236.41" stroke="#222" stroke-width="0.55" />
<line x1="287.6" y1="234.17" x2="289" y2="234.17" stroke="#222" stroke-width="0.55" />
<line x1="287.6" y1="232.57" x2="289" y2="232.57" stroke="#222" stroke-width="0.55" />
<line x1="287.6" y1="231.34" x2="289" y2="231.34" stroke="#222" stroke-width="0.55" />
<line x1="287.6" y1="230.33" x2="289" y2="230.33" stroke="#222" stroke-width="0.55" />
<line x1="287.6" y1="229.47" x2="289" y2="229.47" stroke="#222" stroke-width="0.55" />
<line x1="287.6" y1="228.74" x2="289" y2="228.74" stroke="#222" stroke-width="0.55" />
<line x1="287.6" y1="228.08" x2="289" y2="228.08" stroke="#222" stroke-width="0.55" />
<line x1="286.6" y1="227.5" x2="289" y2="227.5" stroke="#111" stroke-width="0.8" />
<line x1="287.6" y1="223.66" x2="289" y2="223.66" stroke="#222" stroke-width="0.55" />
<line x1="287.6" y1="221.42" x2="289" y2="221.42" stroke="#222" stroke-width="0.55" />
<line x1="287.6" y1="219.82" x2="289" y2="219.82" stroke="#222" stroke-width="0.55" />
<line x1="287.6" y1="218.59" x2="289" y2="218.59" stroke="#222" stroke-width="0.55" />
<line x1="287.6" y1="217.58" x2="289" y2="217.58" stroke="#222" stroke-width="0.55" />
<line x1="287.6" y1="216.72" x2="289" y2="216.72" stroke="#222" stroke-width="0.55" />
<line x1="287.6" y1="215.99" x2="289" y2="215.99" stroke="#222" stroke-width="0.55" />
<line x1="287.6" y1="215.33" x2="289" y2="215.33" stroke="#222" stroke-width="0.55" />
<line x1="286.6" y1="214.75" x2="289" y2="214.75" stroke="#111" stroke-width="0.8" />
<line x1="287.6" y1="210.91" x2="289" y2="210.91" stroke="#222" stroke-width="0.55" />
<line x1="287.6" y1="208.67" x2="289" y2="208.67" stroke="#222" stroke-width="0.55" />
<line x1="287.6" y1="207.07" x2="289" y2="207.07" stroke="#222" stroke-width="0.55" />
<line x1="287.6" y1="205.84" x2="289" y2="205.84" stroke="#222" stroke-width="0.55" />
<line x1="287.6" y1="204.83" x2="289" y2="204.83" stroke="#222" stroke-width="0.55" />
<line x1="287.6" y1="203.97" x2="289" y2="203.97" stroke="#222" stroke-width="0.55" />
<line x1="287.6" y1="203.24" x2="289" y2="203.24" stroke="#222" stroke-width="0.55" />
<line x1="287.6" y1="202.58" x2="289" y2="202.58" stroke="#222" stroke-width="0.55" />
<line x1="286.6" y1="202" x2="289" y2="202" stroke="#111" stroke-width="0.8" />
<line x1="287.6" y1="198.16" x2="289" y2="198.16" stroke="#222" stroke-width="0.55" />
<line x1="287.6" y1="195.92" x2="289" y2="195.92" stroke="#222" stroke-width="0.55" />
<line x1="287.6" y1="194.32" x2="289" y2="194.32" stroke="#222" stroke-width="0.55" />
<line x1="287.6" y1="193.09" x2="289" y2="193.09" stroke="#222" stroke-width="0.55" />
<line x1="287.6" y1="192.08" x2="289" y2="192.08" stroke="#222" stroke-width="0.55" />
<line x1="287.6" y1="191.22" x2="289" y2="191.22" stroke="#222" stroke-width="0.55" />
<line x1="287.6" y1="190.49" x2="289" y2="190.49" stroke="#222" stroke-width="0.55" />
<line x1="287.6" y1="189.83" x2="289" y2="189.83" stroke="#222" stroke-width="0.55" />
<line x1="286.6" y1="189.25" x2="289" y2="189.25" stroke="#111" stroke-width="0.8" />
<line x1="287.6" y1="185.41" x2="289" y2="185.41" stroke="#222" stroke-width="0.55" />
<line x1="287.6" y1="183.17" x2="289" y2="183.17" stroke="#222" stroke-width="0.55" />
<line x1="287.6" y1="181.57" x2="289" y2="181.57" stroke="#222" stroke-width="0.55" />
<line x1="287.6" y1="180.34" x2="289" y2="180.34" stroke="#222" stroke-width="0.55" />
<line x1="287.6" y1="179.33" x2="289" y2="179.33" stroke="#222" stroke-width="0.55" />
<line x1="287.6" y1="178.47" x2="289" y2="178.47" stroke="#222" stroke-width="0.55" />
<line x1="287.6" y1="177.74" x2="289" y2="177.74" stroke="#222" stroke-width="0.55" />
<line x1="287.6" y1="177.08" x2="289" y2="177.08" stroke="#222" stroke-width="0.55" />
<line x1="286.6" y1="176.5" x2="289" y2="176.5" stroke="#111" stroke-width="0.8" />
<text x="283.1" y="240.35" font-size="5.0" text-anchor="end" fill="#1a1a1a" style="stroke-width:0.08px">6</text>
<text x="280.02" y="243.45" font-size="8.4" text-anchor="end" fill="#1a1a1a" textLength="7.4" lengthAdjust="spacingAndGlyphs">10</text>
<text x="283.1" y="227.6" font-size="5.0" text-anchor="end" fill="#1a1a1a" style="stroke-width:0.08px">7</text>
<text x="280.02" y="230.7" font-size="8.4" text-anchor="end" fill="#1a1a1a" textLength="7.4" lengthAdjust="spacingAndGlyphs">10</text>
<text x="283.1" y="214.85" font-size="5.0" text-anchor="end" fill="#1a1a1a" style="stroke-width:0.08px">8</text>
<text x="280.02" y="217.95" font-size="8.4" text-anchor="end" fill="#1a1a1a" textLength="7.4" lengthAdjust="spacingAndGlyphs">10</text>
<text x="283.1" y="202.1" font-size="5.0" text-anchor="end" fill="#1a1a1a" style="stroke-width:0.08px">9</text>
<text x="280.02" y="205.2" font-size="8.4" text-anchor="end" fill="#1a1a1a" textLength="7.4" lengthAdjust="spacingAndGlyphs">10</text>
<text x="283.1" y="189.35" font-size="5.0" text-anchor="end" fill="#1a1a1a" style="stroke-width:0.08px">10</text>
<text x="276.54" y="192.45" font-size="8.4" text-anchor="end" fill="#1a1a1a" textLength="7.4" lengthAdjust="spacingAndGlyphs">10</text>
<text x="283.1" y="176.6" font-size="5.0" text-anchor="end" fill="#1a1a1a" style="stroke-width:0.08px">11</text>
<text x="276.54" y="179.7" font-size="8.4" text-anchor="end" fill="#1a1a1a" textLength="7.4" lengthAdjust="spacingAndGlyphs">10</text>
<text x="333.3" y="179.7" font-size="7.3" text-anchor="middle" font-weight="normal" fill="#1a1a1a"  textLength="41.6" lengthAdjust="spacingAndGlyphs">GSH 4-CAR</text>
<text x="333.3" y="189.5" font-size="7.3" text-anchor="middle" font-weight="normal" fill="#1a1a1a"  textLength="18.6" lengthAdjust="spacingAndGlyphs">n = 7</text>
<line x1="412.4" y1="173.2" x2="412.4" y2="249.2" stroke="#111" stroke-width="1.1" />
<line x1="411.9" y1="248.7" x2="513.4" y2="248.7" stroke="#111" stroke-width="1.1" />
<line x1="412.4" y1="248.7" x2="412.4" y2="251" stroke="#111" stroke-width="0.8" />
<text x="412.4" y="261.3" font-size="7.8" text-anchor="middle" font-weight="normal" fill="#1a1a1a" >0</text>
<line x1="423.33" y1="248.7" x2="423.33" y2="251" stroke="#111" stroke-width="0.8" />
<text x="423.33" y="261.3" font-size="7.8" text-anchor="middle" font-weight="normal" fill="#1a1a1a" >10</text>
<line x1="434.26" y1="248.7" x2="434.26" y2="251" stroke="#111" stroke-width="0.8" />
<text x="434.26" y="261.3" font-size="7.8" text-anchor="middle" font-weight="normal" fill="#1a1a1a" >20</text>
<line x1="445.19" y1="248.7" x2="445.19" y2="251" stroke="#111" stroke-width="0.8" />
<text x="445.19" y="261.3" font-size="7.8" text-anchor="middle" font-weight="normal" fill="#1a1a1a" >30</text>
<line x1="456.12" y1="248.7" x2="456.12" y2="251" stroke="#111" stroke-width="0.8" />
<text x="456.12" y="261.3" font-size="7.8" text-anchor="middle" font-weight="normal" fill="#1a1a1a" >40</text>
<line x1="467.05" y1="248.7" x2="467.05" y2="251" stroke="#111" stroke-width="0.8" />
<text x="467.05" y="261.3" font-size="7.8" text-anchor="middle" font-weight="normal" fill="#1a1a1a" >50</text>
<line x1="477.98" y1="248.7" x2="477.98" y2="251" stroke="#111" stroke-width="0.8" />
<text x="477.98" y="261.3" font-size="7.8" text-anchor="middle" font-weight="normal" fill="#1a1a1a" >60</text>
<line x1="488.91" y1="248.7" x2="488.91" y2="251" stroke="#111" stroke-width="0.8" />
<text x="488.91" y="261.3" font-size="7.8" text-anchor="middle" font-weight="normal" fill="#1a1a1a" >70</text>
<line x1="499.84" y1="248.7" x2="499.84" y2="251" stroke="#111" stroke-width="0.8" />
<text x="499.84" y="261.3" font-size="7.8" text-anchor="middle" font-weight="normal" fill="#1a1a1a" >80</text>
<line x1="510.77" y1="248.7" x2="510.77" y2="251" stroke="#111" stroke-width="0.8" />
<text x="510.77" y="261.3" font-size="7.8" text-anchor="middle" font-weight="normal" fill="#1a1a1a" >90</text>
<line x1="411" y1="246.92" x2="412.4" y2="246.92" stroke="#222" stroke-width="0.55" />
<line x1="411" y1="245.32" x2="412.4" y2="245.32" stroke="#222" stroke-width="0.55" />
<line x1="411" y1="244.09" x2="412.4" y2="244.09" stroke="#222" stroke-width="0.55" />
<line x1="411" y1="243.08" x2="412.4" y2="243.08" stroke="#222" stroke-width="0.55" />
<line x1="411" y1="242.22" x2="412.4" y2="242.22" stroke="#222" stroke-width="0.55" />
<line x1="411" y1="241.49" x2="412.4" y2="241.49" stroke="#222" stroke-width="0.55" />
<line x1="411" y1="240.83" x2="412.4" y2="240.83" stroke="#222" stroke-width="0.55" />
<line x1="410" y1="240.25" x2="412.4" y2="240.25" stroke="#111" stroke-width="0.8" />
<line x1="411" y1="236.41" x2="412.4" y2="236.41" stroke="#222" stroke-width="0.55" />
<line x1="411" y1="234.17" x2="412.4" y2="234.17" stroke="#222" stroke-width="0.55" />
<line x1="411" y1="232.57" x2="412.4" y2="232.57" stroke="#222" stroke-width="0.55" />
<line x1="411" y1="231.34" x2="412.4" y2="231.34" stroke="#222" stroke-width="0.55" />
<line x1="411" y1="230.33" x2="412.4" y2="230.33" stroke="#222" stroke-width="0.55" />
<line x1="411" y1="229.47" x2="412.4" y2="229.47" stroke="#222" stroke-width="0.55" />
<line x1="411" y1="228.74" x2="412.4" y2="228.74" stroke="#222" stroke-width="0.55" />
<line x1="411" y1="228.08" x2="412.4" y2="228.08" stroke="#222" stroke-width="0.55" />
<line x1="410" y1="227.5" x2="412.4" y2="227.5" stroke="#111" stroke-width="0.8" />
<line x1="411" y1="223.66" x2="412.4" y2="223.66" stroke="#222" stroke-width="0.55" />
<line x1="411" y1="221.42" x2="412.4" y2="221.42" stroke="#222" stroke-width="0.55" />
<line x1="411" y1="219.82" x2="412.4" y2="219.82" stroke="#222" stroke-width="0.55" />
<line x1="411" y1="218.59" x2="412.4" y2="218.59" stroke="#222" stroke-width="0.55" />
<line x1="411" y1="217.58" x2="412.4" y2="217.58" stroke="#222" stroke-width="0.55" />
<line x1="411" y1="216.72" x2="412.4" y2="216.72" stroke="#222" stroke-width="0.55" />
<line x1="411" y1="215.99" x2="412.4" y2="215.99" stroke="#222" stroke-width="0.55" />
<line x1="411" y1="215.33" x2="412.4" y2="215.33" stroke="#222" stroke-width="0.55" />
<line x1="410" y1="214.75" x2="412.4" y2="214.75" stroke="#111" stroke-width="0.8" />
<line x1="411" y1="210.91" x2="412.4" y2="210.91" stroke="#222" stroke-width="0.55" />
<line x1="411" y1="208.67" x2="412.4" y2="208.67" stroke="#222" stroke-width="0.55" />
<line x1="411" y1="207.07" x2="412.4" y2="207.07" stroke="#222" stroke-width="0.55" />
<line x1="411" y1="205.84" x2="412.4" y2="205.84" stroke="#222" stroke-width="0.55" />
<line x1="411" y1="204.83" x2="412.4" y2="204.83" stroke="#222" stroke-width="0.55" />
<line x1="411" y1="203.97" x2="412.4" y2="203.97" stroke="#222" stroke-width="0.55" />
<line x1="411" y1="203.24" x2="412.4" y2="203.24" stroke="#222" stroke-width="0.55" />
<line x1="411" y1="202.58" x2="412.4" y2="202.58" stroke="#222" stroke-width="0.55" />
<line x1="410" y1="202" x2="412.4" y2="202" stroke="#111" stroke-width="0.8" />
<line x1="411" y1="198.16" x2="412.4" y2="198.16" stroke="#222" stroke-width="0.55" />
<line x1="411" y1="195.92" x2="412.4" y2="195.92" stroke="#222" stroke-width="0.55" />
<line x1="411" y1="194.32" x2="412.4" y2="194.32" stroke="#222" stroke-width="0.55" />
<line x1="411" y1="193.09" x2="412.4" y2="193.09" stroke="#222" stroke-width="0.55" />
<line x1="411" y1="192.08" x2="412.4" y2="192.08" stroke="#222" stroke-width="0.55" />
<line x1="411" y1="191.22" x2="412.4" y2="191.22" stroke="#222" stroke-width="0.55" />
<line x1="411" y1="190.49" x2="412.4" y2="190.49" stroke="#222" stroke-width="0.55" />
<line x1="411" y1="189.83" x2="412.4" y2="189.83" stroke="#222" stroke-width="0.55" />
<line x1="410" y1="189.25" x2="412.4" y2="189.25" stroke="#111" stroke-width="0.8" />
<line x1="411" y1="185.41" x2="412.4" y2="185.41" stroke="#222" stroke-width="0.55" />
<line x1="411" y1="183.17" x2="412.4" y2="183.17" stroke="#222" stroke-width="0.55" />
<line x1="411" y1="181.57" x2="412.4" y2="181.57" stroke="#222" stroke-width="0.55" />
<line x1="411" y1="180.34" x2="412.4" y2="180.34" stroke="#222" stroke-width="0.55" />
<line x1="411" y1="179.33" x2="412.4" y2="179.33" stroke="#222" stroke-width="0.55" />
<line x1="411" y1="178.47" x2="412.4" y2="178.47" stroke="#222" stroke-width="0.55" />
<line x1="411" y1="177.74" x2="412.4" y2="177.74" stroke="#222" stroke-width="0.55" />
<line x1="411" y1="177.08" x2="412.4" y2="177.08" stroke="#222" stroke-width="0.55" />
<line x1="410" y1="176.5" x2="412.4" y2="176.5" stroke="#111" stroke-width="0.8" />
<text x="406.5" y="240.35" font-size="5.0" text-anchor="end" fill="#1a1a1a" style="stroke-width:0.08px">6</text>
<text x="403.42" y="243.45" font-size="8.4" text-anchor="end" fill="#1a1a1a" textLength="7.4" lengthAdjust="spacingAndGlyphs">10</text>
<text x="406.5" y="227.6" font-size="5.0" text-anchor="end" fill="#1a1a1a" style="stroke-width:0.08px">7</text>
<text x="403.42" y="230.7" font-size="8.4" text-anchor="end" fill="#1a1a1a" textLength="7.4" lengthAdjust="spacingAndGlyphs">10</text>
<text x="406.5" y="214.85" font-size="5.0" text-anchor="end" fill="#1a1a1a" style="stroke-width:0.08px">8</text>
<text x="403.42" y="217.95" font-size="8.4" text-anchor="end" fill="#1a1a1a" textLength="7.4" lengthAdjust="spacingAndGlyphs">10</text>
<text x="406.5" y="202.1" font-size="5.0" text-anchor="end" fill="#1a1a1a" style="stroke-width:0.08px">9</text>
<text x="403.42" y="205.2" font-size="8.4" text-anchor="end" fill="#1a1a1a" textLength="7.4" lengthAdjust="spacingAndGlyphs">10</text>
<text x="406.5" y="189.35" font-size="5.0" text-anchor="end" fill="#1a1a1a" style="stroke-width:0.08px">10</text>
<text x="399.94" y="192.45" font-size="8.4" text-anchor="end" fill="#1a1a1a" textLength="7.4" lengthAdjust="spacingAndGlyphs">10</text>
<text x="406.5" y="176.6" font-size="5.0" text-anchor="end" fill="#1a1a1a" style="stroke-width:0.08px">11</text>
<text x="399.94" y="179.7" font-size="8.4" text-anchor="end" fill="#1a1a1a" textLength="7.4" lengthAdjust="spacingAndGlyphs">10</text>
<text x="456.7" y="179.7" font-size="7.3" text-anchor="middle" font-weight="normal" fill="#1a1a1a"  textLength="42" lengthAdjust="spacingAndGlyphs">GSH 6-CAR</text>
<text x="456.7" y="189.5" font-size="7.3" text-anchor="middle" font-weight="normal" fill="#1a1a1a"  textLength="18.6" lengthAdjust="spacingAndGlyphs">n = 8</text>
<line x1="41.3" y1="276.2" x2="41.3" y2="351.8" stroke="#111" stroke-width="1.1" />
<line x1="40.8" y1="351.3" x2="142.3" y2="351.3" stroke="#111" stroke-width="1.1" />
<line x1="41.3" y1="351.3" x2="41.3" y2="353.6" stroke="#111" stroke-width="0.8" />
<text x="41.3" y="363.9" font-size="7.8" text-anchor="middle" font-weight="normal" fill="#1a1a1a" >0</text>
<line x1="52.23" y1="351.3" x2="52.23" y2="353.6" stroke="#111" stroke-width="0.8" />
<text x="52.23" y="363.9" font-size="7.8" text-anchor="middle" font-weight="normal" fill="#1a1a1a" >10</text>
<line x1="63.16" y1="351.3" x2="63.16" y2="353.6" stroke="#111" stroke-width="0.8" />
<text x="63.16" y="363.9" font-size="7.8" text-anchor="middle" font-weight="normal" fill="#1a1a1a" >20</text>
<line x1="74.09" y1="351.3" x2="74.09" y2="353.6" stroke="#111" stroke-width="0.8" />
<text x="74.09" y="363.9" font-size="7.8" text-anchor="middle" font-weight="normal" fill="#1a1a1a" >30</text>
<line x1="85.02" y1="351.3" x2="85.02" y2="353.6" stroke="#111" stroke-width="0.8" />
<text x="85.02" y="363.9" font-size="7.8" text-anchor="middle" font-weight="normal" fill="#1a1a1a" >40</text>
<line x1="95.95" y1="351.3" x2="95.95" y2="353.6" stroke="#111" stroke-width="0.8" />
<text x="95.95" y="363.9" font-size="7.8" text-anchor="middle" font-weight="normal" fill="#1a1a1a" >50</text>
<line x1="106.88" y1="351.3" x2="106.88" y2="353.6" stroke="#111" stroke-width="0.8" />
<text x="106.88" y="363.9" font-size="7.8" text-anchor="middle" font-weight="normal" fill="#1a1a1a" >60</text>
<line x1="117.81" y1="351.3" x2="117.81" y2="353.6" stroke="#111" stroke-width="0.8" />
<text x="117.81" y="363.9" font-size="7.8" text-anchor="middle" font-weight="normal" fill="#1a1a1a" >70</text>
<line x1="128.74" y1="351.3" x2="128.74" y2="353.6" stroke="#111" stroke-width="0.8" />
<text x="128.74" y="363.9" font-size="7.8" text-anchor="middle" font-weight="normal" fill="#1a1a1a" >80</text>
<line x1="139.67" y1="351.3" x2="139.67" y2="353.6" stroke="#111" stroke-width="0.8" />
<text x="139.67" y="363.9" font-size="7.8" text-anchor="middle" font-weight="normal" fill="#1a1a1a" >90</text>
<line x1="39.9" y1="349.04" x2="41.3" y2="349.04" stroke="#222" stroke-width="0.55" />
<line x1="39.9" y1="347.45" x2="41.3" y2="347.45" stroke="#222" stroke-width="0.55" />
<line x1="39.9" y1="346.22" x2="41.3" y2="346.22" stroke="#222" stroke-width="0.55" />
<line x1="39.9" y1="345.22" x2="41.3" y2="345.22" stroke="#222" stroke-width="0.55" />
<line x1="39.9" y1="344.37" x2="41.3" y2="344.37" stroke="#222" stroke-width="0.55" />
<line x1="39.9" y1="343.63" x2="41.3" y2="343.63" stroke="#222" stroke-width="0.55" />
<line x1="39.9" y1="342.98" x2="41.3" y2="342.98" stroke="#222" stroke-width="0.55" />
<line x1="38.9" y1="342.4" x2="41.3" y2="342.4" stroke="#111" stroke-width="0.8" />
<line x1="39.9" y1="338.58" x2="41.3" y2="338.58" stroke="#222" stroke-width="0.55" />
<line x1="39.9" y1="336.34" x2="41.3" y2="336.34" stroke="#222" stroke-width="0.55" />
<line x1="39.9" y1="334.75" x2="41.3" y2="334.75" stroke="#222" stroke-width="0.55" />
<line x1="39.9" y1="333.52" x2="41.3" y2="333.52" stroke="#222" stroke-width="0.55" />
<line x1="39.9" y1="332.52" x2="41.3" y2="332.52" stroke="#222" stroke-width="0.55" />
<line x1="39.9" y1="331.67" x2="41.3" y2="331.67" stroke="#222" stroke-width="0.55" />
<line x1="39.9" y1="330.93" x2="41.3" y2="330.93" stroke="#222" stroke-width="0.55" />
<line x1="39.9" y1="330.28" x2="41.3" y2="330.28" stroke="#222" stroke-width="0.55" />
<line x1="38.9" y1="329.7" x2="41.3" y2="329.7" stroke="#111" stroke-width="0.8" />
<line x1="39.9" y1="325.88" x2="41.3" y2="325.88" stroke="#222" stroke-width="0.55" />
<line x1="39.9" y1="323.64" x2="41.3" y2="323.64" stroke="#222" stroke-width="0.55" />
<line x1="39.9" y1="322.05" x2="41.3" y2="322.05" stroke="#222" stroke-width="0.55" />
<line x1="39.9" y1="320.82" x2="41.3" y2="320.82" stroke="#222" stroke-width="0.55" />
<line x1="39.9" y1="319.82" x2="41.3" y2="319.82" stroke="#222" stroke-width="0.55" />
<line x1="39.9" y1="318.97" x2="41.3" y2="318.97" stroke="#222" stroke-width="0.55" />
<line x1="39.9" y1="318.23" x2="41.3" y2="318.23" stroke="#222" stroke-width="0.55" />
<line x1="39.9" y1="317.58" x2="41.3" y2="317.58" stroke="#222" stroke-width="0.55" />
<line x1="38.9" y1="317" x2="41.3" y2="317" stroke="#111" stroke-width="0.8" />
<line x1="39.9" y1="313.18" x2="41.3" y2="313.18" stroke="#222" stroke-width="0.55" />
<line x1="39.9" y1="310.94" x2="41.3" y2="310.94" stroke="#222" stroke-width="0.55" />
<line x1="39.9" y1="309.35" x2="41.3" y2="309.35" stroke="#222" stroke-width="0.55" />
<line x1="39.9" y1="308.12" x2="41.3" y2="308.12" stroke="#222" stroke-width="0.55" />
<line x1="39.9" y1="307.12" x2="41.3" y2="307.12" stroke="#222" stroke-width="0.55" />
<line x1="39.9" y1="306.27" x2="41.3" y2="306.27" stroke="#222" stroke-width="0.55" />
<line x1="39.9" y1="305.53" x2="41.3" y2="305.53" stroke="#222" stroke-width="0.55" />
<line x1="39.9" y1="304.88" x2="41.3" y2="304.88" stroke="#222" stroke-width="0.55" />
<line x1="38.9" y1="304.3" x2="41.3" y2="304.3" stroke="#111" stroke-width="0.8" />
<line x1="39.9" y1="300.48" x2="41.3" y2="300.48" stroke="#222" stroke-width="0.55" />
<line x1="39.9" y1="298.24" x2="41.3" y2="298.24" stroke="#222" stroke-width="0.55" />
<line x1="39.9" y1="296.65" x2="41.3" y2="296.65" stroke="#222" stroke-width="0.55" />
<line x1="39.9" y1="295.42" x2="41.3" y2="295.42" stroke="#222" stroke-width="0.55" />
<line x1="39.9" y1="294.42" x2="41.3" y2="294.42" stroke="#222" stroke-width="0.55" />
<line x1="39.9" y1="293.57" x2="41.3" y2="293.57" stroke="#222" stroke-width="0.55" />
<line x1="39.9" y1="292.83" x2="41.3" y2="292.83" stroke="#222" stroke-width="0.55" />
<line x1="39.9" y1="292.18" x2="41.3" y2="292.18" stroke="#222" stroke-width="0.55" />
<line x1="38.9" y1="291.6" x2="41.3" y2="291.6" stroke="#111" stroke-width="0.8" />
<line x1="39.9" y1="287.78" x2="41.3" y2="287.78" stroke="#222" stroke-width="0.55" />
<line x1="39.9" y1="285.54" x2="41.3" y2="285.54" stroke="#222" stroke-width="0.55" />
<line x1="39.9" y1="283.95" x2="41.3" y2="283.95" stroke="#222" stroke-width="0.55" />
<line x1="39.9" y1="282.72" x2="41.3" y2="282.72" stroke="#222" stroke-width="0.55" />
<line x1="39.9" y1="281.72" x2="41.3" y2="281.72" stroke="#222" stroke-width="0.55" />
<line x1="39.9" y1="280.87" x2="41.3" y2="280.87" stroke="#222" stroke-width="0.55" />
<line x1="39.9" y1="280.13" x2="41.3" y2="280.13" stroke="#222" stroke-width="0.55" />
<line x1="39.9" y1="279.48" x2="41.3" y2="279.48" stroke="#222" stroke-width="0.55" />
<line x1="38.9" y1="278.9" x2="41.3" y2="278.9" stroke="#111" stroke-width="0.8" />
<text x="35.4" y="342.5" font-size="5.0" text-anchor="end" fill="#1a1a1a" style="stroke-width:0.08px">6</text>
<text x="32.32" y="346" font-size="8.4" text-anchor="end" fill="#1a1a1a" textLength="7.4" lengthAdjust="spacingAndGlyphs">10</text>
<text x="35.4" y="329.8" font-size="5.0" text-anchor="end" fill="#1a1a1a" style="stroke-width:0.08px">7</text>
<text x="32.32" y="333.3" font-size="8.4" text-anchor="end" fill="#1a1a1a" textLength="7.4" lengthAdjust="spacingAndGlyphs">10</text>
<text x="35.4" y="317.1" font-size="5.0" text-anchor="end" fill="#1a1a1a" style="stroke-width:0.08px">8</text>
<text x="32.32" y="320.6" font-size="8.4" text-anchor="end" fill="#1a1a1a" textLength="7.4" lengthAdjust="spacingAndGlyphs">10</text>
<text x="35.4" y="304.4" font-size="5.0" text-anchor="end" fill="#1a1a1a" style="stroke-width:0.08px">9</text>
<text x="32.32" y="307.9" font-size="8.4" text-anchor="end" fill="#1a1a1a" textLength="7.4" lengthAdjust="spacingAndGlyphs">10</text>
<text x="35.4" y="291.7" font-size="5.0" text-anchor="end" fill="#1a1a1a" style="stroke-width:0.08px">10</text>
<text x="28.84" y="295.2" font-size="8.4" text-anchor="end" fill="#1a1a1a" textLength="7.4" lengthAdjust="spacingAndGlyphs">10</text>
<text x="35.4" y="279" font-size="5.0" text-anchor="end" fill="#1a1a1a" style="stroke-width:0.08px">11</text>
<text x="28.84" y="282.5" font-size="8.4" text-anchor="end" fill="#1a1a1a" textLength="7.4" lengthAdjust="spacingAndGlyphs">10</text>
<text x="90.8" y="282.1" font-size="7.3" text-anchor="middle" font-weight="normal" fill="#1a1a1a"  textLength="39.4" lengthAdjust="spacingAndGlyphs">TRAC-CAR</text>
<text x="90.8" y="291.9" font-size="7.3" text-anchor="middle" font-weight="normal" fill="#1a1a1a"  textLength="23.2" lengthAdjust="spacingAndGlyphs">n = 12</text>
<line x1="164.2" y1="276.2" x2="164.2" y2="351.8" stroke="#111" stroke-width="1.1" />
<line x1="163.7" y1="351.3" x2="265.2" y2="351.3" stroke="#111" stroke-width="1.1" />
<line x1="164.2" y1="351.3" x2="164.2" y2="353.6" stroke="#111" stroke-width="0.8" />
<text x="164.2" y="363.9" font-size="7.8" text-anchor="middle" font-weight="normal" fill="#1a1a1a" >0</text>
<line x1="175.13" y1="351.3" x2="175.13" y2="353.6" stroke="#111" stroke-width="0.8" />
<text x="175.13" y="363.9" font-size="7.8" text-anchor="middle" font-weight="normal" fill="#1a1a1a" >10</text>
<line x1="186.06" y1="351.3" x2="186.06" y2="353.6" stroke="#111" stroke-width="0.8" />
<text x="186.06" y="363.9" font-size="7.8" text-anchor="middle" font-weight="normal" fill="#1a1a1a" >20</text>
<line x1="196.99" y1="351.3" x2="196.99" y2="353.6" stroke="#111" stroke-width="0.8" />
<text x="196.99" y="363.9" font-size="7.8" text-anchor="middle" font-weight="normal" fill="#1a1a1a" >30</text>
<line x1="207.92" y1="351.3" x2="207.92" y2="353.6" stroke="#111" stroke-width="0.8" />
<text x="207.92" y="363.9" font-size="7.8" text-anchor="middle" font-weight="normal" fill="#1a1a1a" >40</text>
<line x1="218.85" y1="351.3" x2="218.85" y2="353.6" stroke="#111" stroke-width="0.8" />
<text x="218.85" y="363.9" font-size="7.8" text-anchor="middle" font-weight="normal" fill="#1a1a1a" >50</text>
<line x1="229.78" y1="351.3" x2="229.78" y2="353.6" stroke="#111" stroke-width="0.8" />
<text x="229.78" y="363.9" font-size="7.8" text-anchor="middle" font-weight="normal" fill="#1a1a1a" >60</text>
<line x1="240.71" y1="351.3" x2="240.71" y2="353.6" stroke="#111" stroke-width="0.8" />
<text x="240.71" y="363.9" font-size="7.8" text-anchor="middle" font-weight="normal" fill="#1a1a1a" >70</text>
<line x1="251.64" y1="351.3" x2="251.64" y2="353.6" stroke="#111" stroke-width="0.8" />
<text x="251.64" y="363.9" font-size="7.8" text-anchor="middle" font-weight="normal" fill="#1a1a1a" >80</text>
<line x1="262.57" y1="351.3" x2="262.57" y2="353.6" stroke="#111" stroke-width="0.8" />
<text x="262.57" y="363.9" font-size="7.8" text-anchor="middle" font-weight="normal" fill="#1a1a1a" >90</text>
<line x1="162.8" y1="349.04" x2="164.2" y2="349.04" stroke="#222" stroke-width="0.55" />
<line x1="162.8" y1="347.45" x2="164.2" y2="347.45" stroke="#222" stroke-width="0.55" />
<line x1="162.8" y1="346.22" x2="164.2" y2="346.22" stroke="#222" stroke-width="0.55" />
<line x1="162.8" y1="345.22" x2="164.2" y2="345.22" stroke="#222" stroke-width="0.55" />
<line x1="162.8" y1="344.37" x2="164.2" y2="344.37" stroke="#222" stroke-width="0.55" />
<line x1="162.8" y1="343.63" x2="164.2" y2="343.63" stroke="#222" stroke-width="0.55" />
<line x1="162.8" y1="342.98" x2="164.2" y2="342.98" stroke="#222" stroke-width="0.55" />
<line x1="161.8" y1="342.4" x2="164.2" y2="342.4" stroke="#111" stroke-width="0.8" />
<line x1="162.8" y1="338.58" x2="164.2" y2="338.58" stroke="#222" stroke-width="0.55" />
<line x1="162.8" y1="336.34" x2="164.2" y2="336.34" stroke="#222" stroke-width="0.55" />
<line x1="162.8" y1="334.75" x2="164.2" y2="334.75" stroke="#222" stroke-width="0.55" />
<line x1="162.8" y1="333.52" x2="164.2" y2="333.52" stroke="#222" stroke-width="0.55" />
<line x1="162.8" y1="332.52" x2="164.2" y2="332.52" stroke="#222" stroke-width="0.55" />
<line x1="162.8" y1="331.67" x2="164.2" y2="331.67" stroke="#222" stroke-width="0.55" />
<line x1="162.8" y1="330.93" x2="164.2" y2="330.93" stroke="#222" stroke-width="0.55" />
<line x1="162.8" y1="330.28" x2="164.2" y2="330.28" stroke="#222" stroke-width="0.55" />
<line x1="161.8" y1="329.7" x2="164.2" y2="329.7" stroke="#111" stroke-width="0.8" />
<line x1="162.8" y1="325.88" x2="164.2" y2="325.88" stroke="#222" stroke-width="0.55" />
<line x1="162.8" y1="323.64" x2="164.2" y2="323.64" stroke="#222" stroke-width="0.55" />
<line x1="162.8" y1="322.05" x2="164.2" y2="322.05" stroke="#222" stroke-width="0.55" />
<line x1="162.8" y1="320.82" x2="164.2" y2="320.82" stroke="#222" stroke-width="0.55" />
<line x1="162.8" y1="319.82" x2="164.2" y2="319.82" stroke="#222" stroke-width="0.55" />
<line x1="162.8" y1="318.97" x2="164.2" y2="318.97" stroke="#222" stroke-width="0.55" />
<line x1="162.8" y1="318.23" x2="164.2" y2="318.23" stroke="#222" stroke-width="0.55" />
<line x1="162.8" y1="317.58" x2="164.2" y2="317.58" stroke="#222" stroke-width="0.55" />
<line x1="161.8" y1="317" x2="164.2" y2="317" stroke="#111" stroke-width="0.8" />
<line x1="162.8" y1="313.18" x2="164.2" y2="313.18" stroke="#222" stroke-width="0.55" />
<line x1="162.8" y1="310.94" x2="164.2" y2="310.94" stroke="#222" stroke-width="0.55" />
<line x1="162.8" y1="309.35" x2="164.2" y2="309.35" stroke="#222" stroke-width="0.55" />
<line x1="162.8" y1="308.12" x2="164.2" y2="308.12" stroke="#222" stroke-width="0.55" />
<line x1="162.8" y1="307.12" x2="164.2" y2="307.12" stroke="#222" stroke-width="0.55" />
<line x1="162.8" y1="306.27" x2="164.2" y2="306.27" stroke="#222" stroke-width="0.55" />
<line x1="162.8" y1="305.53" x2="164.2" y2="305.53" stroke="#222" stroke-width="0.55" />
<line x1="162.8" y1="304.88" x2="164.2" y2="304.88" stroke="#222" stroke-width="0.55" />
<line x1="161.8" y1="304.3" x2="164.2" y2="304.3" stroke="#111" stroke-width="0.8" />
<line x1="162.8" y1="300.48" x2="164.2" y2="300.48" stroke="#222" stroke-width="0.55" />
<line x1="162.8" y1="298.24" x2="164.2" y2="298.24" stroke="#222" stroke-width="0.55" />
<line x1="162.8" y1="296.65" x2="164.2" y2="296.65" stroke="#222" stroke-width="0.55" />
<line x1="162.8" y1="295.42" x2="164.2" y2="295.42" stroke="#222" stroke-width="0.55" />
<line x1="162.8" y1="294.42" x2="164.2" y2="294.42" stroke="#222" stroke-width="0.55" />
<line x1="162.8" y1="293.57" x2="164.2" y2="293.57" stroke="#222" stroke-width="0.55" />
<line x1="162.8" y1="292.83" x2="164.2" y2="292.83" stroke="#222" stroke-width="0.55" />
<line x1="162.8" y1="292.18" x2="164.2" y2="292.18" stroke="#222" stroke-width="0.55" />
<line x1="161.8" y1="291.6" x2="164.2" y2="291.6" stroke="#111" stroke-width="0.8" />
<line x1="162.8" y1="287.78" x2="164.2" y2="287.78" stroke="#222" stroke-width="0.55" />
<line x1="162.8" y1="285.54" x2="164.2" y2="285.54" stroke="#222" stroke-width="0.55" />
<line x1="162.8" y1="283.95" x2="164.2" y2="283.95" stroke="#222" stroke-width="0.55" />
<line x1="162.8" y1="282.72" x2="164.2" y2="282.72" stroke="#222" stroke-width="0.55" />
<line x1="162.8" y1="281.72" x2="164.2" y2="281.72" stroke="#222" stroke-width="0.55" />
<line x1="162.8" y1="280.87" x2="164.2" y2="280.87" stroke="#222" stroke-width="0.55" />
<line x1="162.8" y1="280.13" x2="164.2" y2="280.13" stroke="#222" stroke-width="0.55" />
<line x1="162.8" y1="279.48" x2="164.2" y2="279.48" stroke="#222" stroke-width="0.55" />
<line x1="161.8" y1="278.9" x2="164.2" y2="278.9" stroke="#111" stroke-width="0.8" />
<text x="158.3" y="342.5" font-size="5.0" text-anchor="end" fill="#1a1a1a" style="stroke-width:0.08px">6</text>
<text x="155.22" y="346" font-size="8.4" text-anchor="end" fill="#1a1a1a" textLength="7.4" lengthAdjust="spacingAndGlyphs">10</text>
<text x="158.3" y="329.8" font-size="5.0" text-anchor="end" fill="#1a1a1a" style="stroke-width:0.08px">7</text>
<text x="155.22" y="333.3" font-size="8.4" text-anchor="end" fill="#1a1a1a" textLength="7.4" lengthAdjust="spacingAndGlyphs">10</text>
<text x="158.3" y="317.1" font-size="5.0" text-anchor="end" fill="#1a1a1a" style="stroke-width:0.08px">8</text>
<text x="155.22" y="320.6" font-size="8.4" text-anchor="end" fill="#1a1a1a" textLength="7.4" lengthAdjust="spacingAndGlyphs">10</text>
<text x="158.3" y="304.4" font-size="5.0" text-anchor="end" fill="#1a1a1a" style="stroke-width:0.08px">9</text>
<text x="155.22" y="307.9" font-size="8.4" text-anchor="end" fill="#1a1a1a" textLength="7.4" lengthAdjust="spacingAndGlyphs">10</text>
<text x="158.3" y="291.7" font-size="5.0" text-anchor="end" fill="#1a1a1a" style="stroke-width:0.08px">10</text>
<text x="151.74" y="295.2" font-size="8.4" text-anchor="end" fill="#1a1a1a" textLength="7.4" lengthAdjust="spacingAndGlyphs">10</text>
<text x="158.3" y="279" font-size="5.0" text-anchor="end" fill="#1a1a1a" style="stroke-width:0.08px">11</text>
<text x="151.74" y="282.5" font-size="8.4" text-anchor="end" fill="#1a1a1a" textLength="7.4" lengthAdjust="spacingAndGlyphs">10</text>
<text x="209.4" y="282.1" font-size="7.3" text-anchor="middle" font-weight="normal" fill="#1a1a1a"  textLength="57.2" lengthAdjust="spacingAndGlyphs">GSH 1+C1-CAR</text>
<text x="209.4" y="291.9" font-size="7.3" text-anchor="middle" font-weight="normal" fill="#1a1a1a"  textLength="23.8" lengthAdjust="spacingAndGlyphs">n = 10</text>
<line x1="287.6" y1="276.2" x2="287.6" y2="351.8" stroke="#111" stroke-width="1.1" />
<line x1="287.1" y1="351.3" x2="388.6" y2="351.3" stroke="#111" stroke-width="1.1" />
<line x1="287.6" y1="351.3" x2="287.6" y2="353.6" stroke="#111" stroke-width="0.8" />
<text x="287.6" y="363.9" font-size="7.8" text-anchor="middle" font-weight="normal" fill="#1a1a1a" >0</text>
<line x1="298.53" y1="351.3" x2="298.53" y2="353.6" stroke="#111" stroke-width="0.8" />
<text x="298.53" y="363.9" font-size="7.8" text-anchor="middle" font-weight="normal" fill="#1a1a1a" >10</text>
<line x1="309.46" y1="351.3" x2="309.46" y2="353.6" stroke="#111" stroke-width="0.8" />
<text x="309.46" y="363.9" font-size="7.8" text-anchor="middle" font-weight="normal" fill="#1a1a1a" >20</text>
<line x1="320.39" y1="351.3" x2="320.39" y2="353.6" stroke="#111" stroke-width="0.8" />
<text x="320.39" y="363.9" font-size="7.8" text-anchor="middle" font-weight="normal" fill="#1a1a1a" >30</text>
<line x1="331.32" y1="351.3" x2="331.32" y2="353.6" stroke="#111" stroke-width="0.8" />
<text x="331.32" y="363.9" font-size="7.8" text-anchor="middle" font-weight="normal" fill="#1a1a1a" >40</text>
<line x1="342.25" y1="351.3" x2="342.25" y2="353.6" stroke="#111" stroke-width="0.8" />
<text x="342.25" y="363.9" font-size="7.8" text-anchor="middle" font-weight="normal" fill="#1a1a1a" >50</text>
<line x1="353.18" y1="351.3" x2="353.18" y2="353.6" stroke="#111" stroke-width="0.8" />
<text x="353.18" y="363.9" font-size="7.8" text-anchor="middle" font-weight="normal" fill="#1a1a1a" >60</text>
<line x1="364.11" y1="351.3" x2="364.11" y2="353.6" stroke="#111" stroke-width="0.8" />
<text x="364.11" y="363.9" font-size="7.8" text-anchor="middle" font-weight="normal" fill="#1a1a1a" >70</text>
<line x1="375.04" y1="351.3" x2="375.04" y2="353.6" stroke="#111" stroke-width="0.8" />
<text x="375.04" y="363.9" font-size="7.8" text-anchor="middle" font-weight="normal" fill="#1a1a1a" >80</text>
<line x1="385.97" y1="351.3" x2="385.97" y2="353.6" stroke="#111" stroke-width="0.8" />
<text x="385.97" y="363.9" font-size="7.8" text-anchor="middle" font-weight="normal" fill="#1a1a1a" >90</text>
<line x1="286.2" y1="349.04" x2="287.6" y2="349.04" stroke="#222" stroke-width="0.55" />
<line x1="286.2" y1="347.45" x2="287.6" y2="347.45" stroke="#222" stroke-width="0.55" />
<line x1="286.2" y1="346.22" x2="287.6" y2="346.22" stroke="#222" stroke-width="0.55" />
<line x1="286.2" y1="345.22" x2="287.6" y2="345.22" stroke="#222" stroke-width="0.55" />
<line x1="286.2" y1="344.37" x2="287.6" y2="344.37" stroke="#222" stroke-width="0.55" />
<line x1="286.2" y1="343.63" x2="287.6" y2="343.63" stroke="#222" stroke-width="0.55" />
<line x1="286.2" y1="342.98" x2="287.6" y2="342.98" stroke="#222" stroke-width="0.55" />
<line x1="285.2" y1="342.4" x2="287.6" y2="342.4" stroke="#111" stroke-width="0.8" />
<line x1="286.2" y1="338.58" x2="287.6" y2="338.58" stroke="#222" stroke-width="0.55" />
<line x1="286.2" y1="336.34" x2="287.6" y2="336.34" stroke="#222" stroke-width="0.55" />
<line x1="286.2" y1="334.75" x2="287.6" y2="334.75" stroke="#222" stroke-width="0.55" />
<line x1="286.2" y1="333.52" x2="287.6" y2="333.52" stroke="#222" stroke-width="0.55" />
<line x1="286.2" y1="332.52" x2="287.6" y2="332.52" stroke="#222" stroke-width="0.55" />
<line x1="286.2" y1="331.67" x2="287.6" y2="331.67" stroke="#222" stroke-width="0.55" />
<line x1="286.2" y1="330.93" x2="287.6" y2="330.93" stroke="#222" stroke-width="0.55" />
<line x1="286.2" y1="330.28" x2="287.6" y2="330.28" stroke="#222" stroke-width="0.55" />
<line x1="285.2" y1="329.7" x2="287.6" y2="329.7" stroke="#111" stroke-width="0.8" />
<line x1="286.2" y1="325.88" x2="287.6" y2="325.88" stroke="#222" stroke-width="0.55" />
<line x1="286.2" y1="323.64" x2="287.6" y2="323.64" stroke="#222" stroke-width="0.55" />
<line x1="286.2" y1="322.05" x2="287.6" y2="322.05" stroke="#222" stroke-width="0.55" />
<line x1="286.2" y1="320.82" x2="287.6" y2="320.82" stroke="#222" stroke-width="0.55" />
<line x1="286.2" y1="319.82" x2="287.6" y2="319.82" stroke="#222" stroke-width="0.55" />
<line x1="286.2" y1="318.97" x2="287.6" y2="318.97" stroke="#222" stroke-width="0.55" />
<line x1="286.2" y1="318.23" x2="287.6" y2="318.23" stroke="#222" stroke-width="0.55" />
<line x1="286.2" y1="317.58" x2="287.6" y2="317.58" stroke="#222" stroke-width="0.55" />
<line x1="285.2" y1="317" x2="287.6" y2="317" stroke="#111" stroke-width="0.8" />
<line x1="286.2" y1="313.18" x2="287.6" y2="313.18" stroke="#222" stroke-width="0.55" />
<line x1="286.2" y1="310.94" x2="287.6" y2="310.94" stroke="#222" stroke-width="0.55" />
<line x1="286.2" y1="309.35" x2="287.6" y2="309.35" stroke="#222" stroke-width="0.55" />
<line x1="286.2" y1="308.12" x2="287.6" y2="308.12" stroke="#222" stroke-width="0.55" />
<line x1="286.2" y1="307.12" x2="287.6" y2="307.12" stroke="#222" stroke-width="0.55" />
<line x1="286.2" y1="306.27" x2="287.6" y2="306.27" stroke="#222" stroke-width="0.55" />
<line x1="286.2" y1="305.53" x2="287.6" y2="305.53" stroke="#222" stroke-width="0.55" />
<line x1="286.2" y1="304.88" x2="287.6" y2="304.88" stroke="#222" stroke-width="0.55" />
<line x1="285.2" y1="304.3" x2="287.6" y2="304.3" stroke="#111" stroke-width="0.8" />
<line x1="286.2" y1="300.48" x2="287.6" y2="300.48" stroke="#222" stroke-width="0.55" />
<line x1="286.2" y1="298.24" x2="287.6" y2="298.24" stroke="#222" stroke-width="0.55" />
<line x1="286.2" y1="296.65" x2="287.6" y2="296.65" stroke="#222" stroke-width="0.55" />
<line x1="286.2" y1="295.42" x2="287.6" y2="295.42" stroke="#222" stroke-width="0.55" />
<line x1="286.2" y1="294.42" x2="287.6" y2="294.42" stroke="#222" stroke-width="0.55" />
<line x1="286.2" y1="293.57" x2="287.6" y2="293.57" stroke="#222" stroke-width="0.55" />
<line x1="286.2" y1="292.83" x2="287.6" y2="292.83" stroke="#222" stroke-width="0.55" />
<line x1="286.2" y1="292.18" x2="287.6" y2="292.18" stroke="#222" stroke-width="0.55" />
<line x1="285.2" y1="291.6" x2="287.6" y2="291.6" stroke="#111" stroke-width="0.8" />
<line x1="286.2" y1="287.78" x2="287.6" y2="287.78" stroke="#222" stroke-width="0.55" />
<line x1="286.2" y1="285.54" x2="287.6" y2="285.54" stroke="#222" stroke-width="0.55" />
<line x1="286.2" y1="283.95" x2="287.6" y2="283.95" stroke="#222" stroke-width="0.55" />
<line x1="286.2" y1="282.72" x2="287.6" y2="282.72" stroke="#222" stroke-width="0.55" />
<line x1="286.2" y1="281.72" x2="287.6" y2="281.72" stroke="#222" stroke-width="0.55" />
<line x1="286.2" y1="280.87" x2="287.6" y2="280.87" stroke="#222" stroke-width="0.55" />
<line x1="286.2" y1="280.13" x2="287.6" y2="280.13" stroke="#222" stroke-width="0.55" />
<line x1="286.2" y1="279.48" x2="287.6" y2="279.48" stroke="#222" stroke-width="0.55" />
<line x1="285.2" y1="278.9" x2="287.6" y2="278.9" stroke="#111" stroke-width="0.8" />
<text x="281.7" y="342.5" font-size="5.0" text-anchor="end" fill="#1a1a1a" style="stroke-width:0.08px">6</text>
<text x="278.62" y="346" font-size="8.4" text-anchor="end" fill="#1a1a1a" textLength="7.4" lengthAdjust="spacingAndGlyphs">10</text>
<text x="281.7" y="329.8" font-size="5.0" text-anchor="end" fill="#1a1a1a" style="stroke-width:0.08px">7</text>
<text x="278.62" y="333.3" font-size="8.4" text-anchor="end" fill="#1a1a1a" textLength="7.4" lengthAdjust="spacingAndGlyphs">10</text>
<text x="281.7" y="317.1" font-size="5.0" text-anchor="end" fill="#1a1a1a" style="stroke-width:0.08px">8</text>
<text x="278.62" y="320.6" font-size="8.4" text-anchor="end" fill="#1a1a1a" textLength="7.4" lengthAdjust="spacingAndGlyphs">10</text>
<text x="281.7" y="304.4" font-size="5.0" text-anchor="end" fill="#1a1a1a" style="stroke-width:0.08px">9</text>
<text x="278.62" y="307.9" font-size="8.4" text-anchor="end" fill="#1a1a1a" textLength="7.4" lengthAdjust="spacingAndGlyphs">10</text>
<text x="281.7" y="291.7" font-size="5.0" text-anchor="end" fill="#1a1a1a" style="stroke-width:0.08px">10</text>
<text x="275.14" y="295.2" font-size="8.4" text-anchor="end" fill="#1a1a1a" textLength="7.4" lengthAdjust="spacingAndGlyphs">10</text>
<text x="281.7" y="279" font-size="5.0" text-anchor="end" fill="#1a1a1a" style="stroke-width:0.08px">11</text>
<text x="275.14" y="282.5" font-size="8.4" text-anchor="end" fill="#1a1a1a" textLength="7.4" lengthAdjust="spacingAndGlyphs">10</text>
<text x="333.3" y="282.1" font-size="7.3" text-anchor="middle" font-weight="normal" fill="#1a1a1a"  textLength="57.2" lengthAdjust="spacingAndGlyphs">GSH 4+C1-CAR</text>
<text x="333.3" y="291.9" font-size="7.3" text-anchor="middle" font-weight="normal" fill="#1a1a1a"  textLength="18.4" lengthAdjust="spacingAndGlyphs">n = 9</text>
<line x1="410.8" y1="276.2" x2="410.8" y2="351.8" stroke="#111" stroke-width="1.1" />
<line x1="410.3" y1="351.3" x2="511.8" y2="351.3" stroke="#111" stroke-width="1.1" />
<line x1="410.8" y1="351.3" x2="410.8" y2="353.6" stroke="#111" stroke-width="0.8" />
<text x="410.8" y="363.9" font-size="7.8" text-anchor="middle" font-weight="normal" fill="#1a1a1a" >0</text>
<line x1="421.73" y1="351.3" x2="421.73" y2="353.6" stroke="#111" stroke-width="0.8" />
<text x="421.73" y="363.9" font-size="7.8" text-anchor="middle" font-weight="normal" fill="#1a1a1a" >10</text>
<line x1="432.66" y1="351.3" x2="432.66" y2="353.6" stroke="#111" stroke-width="0.8" />
<text x="432.66" y="363.9" font-size="7.8" text-anchor="middle" font-weight="normal" fill="#1a1a1a" >20</text>
<line x1="443.59" y1="351.3" x2="443.59" y2="353.6" stroke="#111" stroke-width="0.8" />
<text x="443.59" y="363.9" font-size="7.8" text-anchor="middle" font-weight="normal" fill="#1a1a1a" >30</text>
<line x1="454.52" y1="351.3" x2="454.52" y2="353.6" stroke="#111" stroke-width="0.8" />
<text x="454.52" y="363.9" font-size="7.8" text-anchor="middle" font-weight="normal" fill="#1a1a1a" >40</text>
<line x1="465.45" y1="351.3" x2="465.45" y2="353.6" stroke="#111" stroke-width="0.8" />
<text x="465.45" y="363.9" font-size="7.8" text-anchor="middle" font-weight="normal" fill="#1a1a1a" >50</text>
<line x1="476.38" y1="351.3" x2="476.38" y2="353.6" stroke="#111" stroke-width="0.8" />
<text x="476.38" y="363.9" font-size="7.8" text-anchor="middle" font-weight="normal" fill="#1a1a1a" >60</text>
<line x1="487.31" y1="351.3" x2="487.31" y2="353.6" stroke="#111" stroke-width="0.8" />
<text x="487.31" y="363.9" font-size="7.8" text-anchor="middle" font-weight="normal" fill="#1a1a1a" >70</text>
<line x1="498.24" y1="351.3" x2="498.24" y2="353.6" stroke="#111" stroke-width="0.8" />
<text x="498.24" y="363.9" font-size="7.8" text-anchor="middle" font-weight="normal" fill="#1a1a1a" >80</text>
<line x1="509.17" y1="351.3" x2="509.17" y2="353.6" stroke="#111" stroke-width="0.8" />
<text x="509.17" y="363.9" font-size="7.8" text-anchor="middle" font-weight="normal" fill="#1a1a1a" >90</text>
<line x1="409.4" y1="349.04" x2="410.8" y2="349.04" stroke="#222" stroke-width="0.55" />
<line x1="409.4" y1="347.45" x2="410.8" y2="347.45" stroke="#222" stroke-width="0.55" />
<line x1="409.4" y1="346.22" x2="410.8" y2="346.22" stroke="#222" stroke-width="0.55" />
<line x1="409.4" y1="345.22" x2="410.8" y2="345.22" stroke="#222" stroke-width="0.55" />
<line x1="409.4" y1="344.37" x2="410.8" y2="344.37" stroke="#222" stroke-width="0.55" />
<line x1="409.4" y1="343.63" x2="410.8" y2="343.63" stroke="#222" stroke-width="0.55" />
<line x1="409.4" y1="342.98" x2="410.8" y2="342.98" stroke="#222" stroke-width="0.55" />
<line x1="408.4" y1="342.4" x2="410.8" y2="342.4" stroke="#111" stroke-width="0.8" />
<line x1="409.4" y1="338.58" x2="410.8" y2="338.58" stroke="#222" stroke-width="0.55" />
<line x1="409.4" y1="336.34" x2="410.8" y2="336.34" stroke="#222" stroke-width="0.55" />
<line x1="409.4" y1="334.75" x2="410.8" y2="334.75" stroke="#222" stroke-width="0.55" />
<line x1="409.4" y1="333.52" x2="410.8" y2="333.52" stroke="#222" stroke-width="0.55" />
<line x1="409.4" y1="332.52" x2="410.8" y2="332.52" stroke="#222" stroke-width="0.55" />
<line x1="409.4" y1="331.67" x2="410.8" y2="331.67" stroke="#222" stroke-width="0.55" />
<line x1="409.4" y1="330.93" x2="410.8" y2="330.93" stroke="#222" stroke-width="0.55" />
<line x1="409.4" y1="330.28" x2="410.8" y2="330.28" stroke="#222" stroke-width="0.55" />
<line x1="408.4" y1="329.7" x2="410.8" y2="329.7" stroke="#111" stroke-width="0.8" />
<line x1="409.4" y1="325.88" x2="410.8" y2="325.88" stroke="#222" stroke-width="0.55" />
<line x1="409.4" y1="323.64" x2="410.8" y2="323.64" stroke="#222" stroke-width="0.55" />
<line x1="409.4" y1="322.05" x2="410.8" y2="322.05" stroke="#222" stroke-width="0.55" />
<line x1="409.4" y1="320.82" x2="410.8" y2="320.82" stroke="#222" stroke-width="0.55" />
<line x1="409.4" y1="319.82" x2="410.8" y2="319.82" stroke="#222" stroke-width="0.55" />
<line x1="409.4" y1="318.97" x2="410.8" y2="318.97" stroke="#222" stroke-width="0.55" />
<line x1="409.4" y1="318.23" x2="410.8" y2="318.23" stroke="#222" stroke-width="0.55" />
<line x1="409.4" y1="317.58" x2="410.8" y2="317.58" stroke="#222" stroke-width="0.55" />
<line x1="408.4" y1="317" x2="410.8" y2="317" stroke="#111" stroke-width="0.8" />
<line x1="409.4" y1="313.18" x2="410.8" y2="313.18" stroke="#222" stroke-width="0.55" />
<line x1="409.4" y1="310.94" x2="410.8" y2="310.94" stroke="#222" stroke-width="0.55" />
<line x1="409.4" y1="309.35" x2="410.8" y2="309.35" stroke="#222" stroke-width="0.55" />
<line x1="409.4" y1="308.12" x2="410.8" y2="308.12" stroke="#222" stroke-width="0.55" />
<line x1="409.4" y1="307.12" x2="410.8" y2="307.12" stroke="#222" stroke-width="0.55" />
<line x1="409.4" y1="306.27" x2="410.8" y2="306.27" stroke="#222" stroke-width="0.55" />
<line x1="409.4" y1="305.53" x2="410.8" y2="305.53" stroke="#222" stroke-width="0.55" />
<line x1="409.4" y1="304.88" x2="410.8" y2="304.88" stroke="#222" stroke-width="0.55" />
<line x1="408.4" y1="304.3" x2="410.8" y2="304.3" stroke="#111" stroke-width="0.8" />
<line x1="409.4" y1="300.48" x2="410.8" y2="300.48" stroke="#222" stroke-width="0.55" />
<line x1="409.4" y1="298.24" x2="410.8" y2="298.24" stroke="#222" stroke-width="0.55" />
<line x1="409.4" y1="296.65" x2="410.8" y2="296.65" stroke="#222" stroke-width="0.55" />
<line x1="409.4" y1="295.42" x2="410.8" y2="295.42" stroke="#222" stroke-width="0.55" />
<line x1="409.4" y1="294.42" x2="410.8" y2="294.42" stroke="#222" stroke-width="0.55" />
<line x1="409.4" y1="293.57" x2="410.8" y2="293.57" stroke="#222" stroke-width="0.55" />
<line x1="409.4" y1="292.83" x2="410.8" y2="292.83" stroke="#222" stroke-width="0.55" />
<line x1="409.4" y1="292.18" x2="410.8" y2="292.18" stroke="#222" stroke-width="0.55" />
<line x1="408.4" y1="291.6" x2="410.8" y2="291.6" stroke="#111" stroke-width="0.8" />
<line x1="409.4" y1="287.78" x2="410.8" y2="287.78" stroke="#222" stroke-width="0.55" />
<line x1="409.4" y1="285.54" x2="410.8" y2="285.54" stroke="#222" stroke-width="0.55" />
<line x1="409.4" y1="283.95" x2="410.8" y2="283.95" stroke="#222" stroke-width="0.55" />
<line x1="409.4" y1="282.72" x2="410.8" y2="282.72" stroke="#222" stroke-width="0.55" />
<line x1="409.4" y1="281.72" x2="410.8" y2="281.72" stroke="#222" stroke-width="0.55" />
<line x1="409.4" y1="280.87" x2="410.8" y2="280.87" stroke="#222" stroke-width="0.55" />
<line x1="409.4" y1="280.13" x2="410.8" y2="280.13" stroke="#222" stroke-width="0.55" />
<line x1="409.4" y1="279.48" x2="410.8" y2="279.48" stroke="#222" stroke-width="0.55" />
<line x1="408.4" y1="278.9" x2="410.8" y2="278.9" stroke="#111" stroke-width="0.8" />
<text x="404.9" y="342.5" font-size="5.0" text-anchor="end" fill="#1a1a1a" style="stroke-width:0.08px">6</text>
<text x="401.82" y="346" font-size="8.4" text-anchor="end" fill="#1a1a1a" textLength="7.4" lengthAdjust="spacingAndGlyphs">10</text>
<text x="404.9" y="329.8" font-size="5.0" text-anchor="end" fill="#1a1a1a" style="stroke-width:0.08px">7</text>
<text x="401.82" y="333.3" font-size="8.4" text-anchor="end" fill="#1a1a1a" textLength="7.4" lengthAdjust="spacingAndGlyphs">10</text>
<text x="404.9" y="317.1" font-size="5.0" text-anchor="end" fill="#1a1a1a" style="stroke-width:0.08px">8</text>
<text x="401.82" y="320.6" font-size="8.4" text-anchor="end" fill="#1a1a1a" textLength="7.4" lengthAdjust="spacingAndGlyphs">10</text>
<text x="404.9" y="304.4" font-size="5.0" text-anchor="end" fill="#1a1a1a" style="stroke-width:0.08px">9</text>
<text x="401.82" y="307.9" font-size="8.4" text-anchor="end" fill="#1a1a1a" textLength="7.4" lengthAdjust="spacingAndGlyphs">10</text>
<text x="404.9" y="291.7" font-size="5.0" text-anchor="end" fill="#1a1a1a" style="stroke-width:0.08px">10</text>
<text x="398.34" y="295.2" font-size="8.4" text-anchor="end" fill="#1a1a1a" textLength="7.4" lengthAdjust="spacingAndGlyphs">10</text>
<text x="404.9" y="279" font-size="5.0" text-anchor="end" fill="#1a1a1a" style="stroke-width:0.08px">11</text>
<text x="398.34" y="282.5" font-size="8.4" text-anchor="end" fill="#1a1a1a" textLength="7.4" lengthAdjust="spacingAndGlyphs">10</text>
<text x="454.4" y="282.1" font-size="7.3" text-anchor="middle" font-weight="normal" fill="#1a1a1a"  textLength="57.9" lengthAdjust="spacingAndGlyphs">GSH 6+C1-CAR</text>
<text x="454.4" y="291.9" font-size="7.3" text-anchor="middle" font-weight="normal" fill="#1a1a1a"  textLength="23.8" lengthAdjust="spacingAndGlyphs">n = 12</text>
<polyline points="41.4,230 45.8,211.5 52.2,192.5" fill="none" stroke="#1c1c1c" stroke-width="1.0" stroke-linejoin="round" />
<polyline points="41.4,232 45.8,212.5 52.2,193.5" fill="none" stroke="#1c1c1c" stroke-width="1.0" stroke-linejoin="round" />
<polyline points="41.4,233.5 45.8,213.5 52.2,194.5" fill="none" stroke="#1c1c1c" stroke-width="1.0" stroke-linejoin="round" />
<polyline points="41.4,235 45.8,214.5 52.2,195.5" fill="none" stroke="#1c1c1c" stroke-width="1.0" stroke-linejoin="round" />
<polyline points="41.4,236.5 45.8,215.5 52.2,196.5" fill="none" stroke="#1c1c1c" stroke-width="1.0" stroke-linejoin="round" />
<polyline points="41.4,238 45.8,216.5 52.2,197.5" fill="none" stroke="#1c1c1c" stroke-width="1.0" stroke-linejoin="round" />
<polyline points="41.4,239 45.8,218 52.2,198.5" fill="none" stroke="#1c1c1c" stroke-width="1.0" stroke-linejoin="round" />
<polyline points="41.4,234 45.8,214 52.2,196" fill="none" stroke="#1c1c1c" stroke-width="1.0" stroke-linejoin="round" />
<polyline points="52.2,192.5 60.9,185" fill="none" stroke="#1c1c1c" stroke-width="0.8" stroke-linejoin="round" />
<polyline points="165.2,229 169.6,215 175.6,199.5 183.4,189.6" fill="none" stroke="#1c1c1c" stroke-width="0.75" stroke-linejoin="round" />
<polyline points="165.2,231 169.6,216 175.6,200 184,194.4 190,193.5" fill="none" stroke="#1c1c1c" stroke-width="0.75" stroke-linejoin="round" />
<polyline points="165.2,232 169.6,217 175.6,200.5 185.2,198.6 196.7,193.2" fill="none" stroke="#1c1c1c" stroke-width="0.75" stroke-linejoin="round" />
<polyline points="165.2,230 169.6,216.5 176.5,200.5 184,200.5 190,205.2 196.7,199.2" fill="none" stroke="#1c1c1c" stroke-width="0.75" stroke-linejoin="round" />
<polyline points="165.2,233 169.6,218 176.5,204 184,201.6 190.6,218.5 196,214.3 199.7,219.7 206.3,219.1" fill="none" stroke="#1c1c1c" stroke-width="0.75" stroke-linejoin="round" />
<polyline points="165.2,232 169.6,218 176.5,204.6 184,208.8 191.2,219.7 206.3,221.5" fill="none" stroke="#1c1c1c" stroke-width="0.75" stroke-linejoin="round" />
<polyline points="165.2,231 169.6,217.5 176.5,204 184,210 196,222.7 199,232.9 206.3,234.7" fill="none" stroke="#1c1c1c" stroke-width="0.75" stroke-linejoin="round" />
<polyline points="165.2,230 169.6,216 175.6,201 180,203" fill="none" stroke="#1c1c1c" stroke-width="0.75" stroke-linejoin="round" />
<polyline points="289,236.9 292.5,232.9 299.4,231.1 306.3,224.2 314.4,220.2 321.9,234.6 337.5,237.1" fill="none" stroke="#1c1c1c" stroke-width="0.72" stroke-linejoin="round" />
<polyline points="289,235.8 292.5,232.9 300.6,238.1 306.3,238.1 315.6,231.7 320.8,230.9" fill="none" stroke="#1c1c1c" stroke-width="0.72" stroke-linejoin="round" />
<polyline points="289,234.6 292.5,232.9 304,243.8 313.8,243.3 345,242.7 360,243 374,242 378,239.5 386,242" fill="none" stroke="#1c1c1c" stroke-width="0.72" stroke-linejoin="round" />
<polyline points="289,237 292.5,233.5 300,240 310,242 330,243.5 350,243 368,245.6" fill="none" stroke="#1c1c1c" stroke-width="0.72" stroke-linejoin="round" />
<polyline points="289,238 292.5,234 300,239 310,241 320,242.5 340,243.5 360,243 380,241 386,243.5" fill="none" stroke="#1c1c1c" stroke-width="0.72" stroke-linejoin="round" />
<polyline points="289,236 293,233.5 305,244.2 320,244.8 340,244.2 360,244 375,243.2 386,244.5" fill="none" stroke="#1c1c1c" stroke-width="0.72" stroke-linejoin="round" />
<polyline points="289,237.5 292.5,233 302,241.5 315,243 335,242 355,242.5 372,241 377,239.6 383,241 386,240.5" fill="none" stroke="#1c1c1c" stroke-width="0.72" stroke-linejoin="round" />
<polyline points="412.4,234.66 415.5,233.04 423.6,243.03 434.5,241.91 444.9,243.23 460,243.03 475,242.83 484,242.99 495,242.23 508.6,241.75" fill="none" stroke="#1c1c1c" stroke-width="0.7" stroke-linejoin="round" />
<polyline points="412.4,235.19 415.5,232.1 423.6,243.14 434.5,242.05 444.9,243.34 460,243.14 475,242.94 484,243.16 495,242.34 508.6,241.82" fill="none" stroke="#1c1c1c" stroke-width="0.7" stroke-linejoin="round" />
<polyline points="412.4,235.71 415.5,232.66 423.6,243.24 434.5,241.59 444.9,243.44 460,243.24 475,243.04 484,243.34 495,242.44 508.6,241.9" fill="none" stroke="#1c1c1c" stroke-width="0.7" stroke-linejoin="round" />
<polyline points="412.4,236.24 415.5,234.72 423.6,243.35 434.5,242.33 444.9,243.55 460,243.35 475,243.15 484,243.51 495,242.55 508.6,241.97" fill="none" stroke="#1c1c1c" stroke-width="0.7" stroke-linejoin="round" />
<polyline points="412.4,236.76 415.5,233.78 423.6,243.45 434.5,242.47 444.9,243.65 460,243.45 475,243.25 484,243.69 495,242.65 508.6,242.03" fill="none" stroke="#1c1c1c" stroke-width="0.7" stroke-linejoin="round" />
<polyline points="412.4,237.29 415.5,234.34 423.6,243.56 434.5,242.61 444.9,243.76 460,243.56 475,243.36 484,244.66 495,242.76 508.6,242.1" fill="none" stroke="#1c1c1c" stroke-width="0.7" stroke-linejoin="round" />
<polyline points="412.4,237.81 415.5,236.4 423.6,243.66 434.5,242.75 444.9,243.86 460,243.66 475,243.46 484,244.04 495,242.86 508.6,242.18" fill="none" stroke="#1c1c1c" stroke-width="0.7" stroke-linejoin="round" />
<polyline points="412.4,238.34 415.5,235.46 423.6,243.77 434.5,242.89 444.9,243.97 460,243.77 475,243.57 484,244.21 495,242.97 508.6,242.25" fill="none" stroke="#1c1c1c" stroke-width="0.7" stroke-linejoin="round" />
<polyline points="41.3,333.6 44.3,335.65 51.14,344.22 63,343.42 70,345.31 75,343.53 82,344.48 87.6,343.46 94,344.28 100,345 107,344.5 113,345.58 120,344.22 128,340.96 134,341.16 138.4,341.26" fill="none" stroke="#1c1c1c" stroke-width="0.6" stroke-linejoin="round" />
<polyline points="41.3,334.22 44.3,335.2 61.49,344.92 70,344.05 75,345.62 82,344.02 87.6,342.84 94,343.75 100,344.11 107,344.45 113,346.3 120,343.79 128,341.81 134,342.76 138.4,342.36" fill="none" stroke="#1c1c1c" stroke-width="0.6" stroke-linejoin="round" />
<polyline points="41.3,334.84 44.3,333.3 61.36,345.59 70,344.86 75,345.94 82,343.31 87.6,342.93 94,343.45 100,345.42 107,345.95 113,346.88 120,343.92 128,341.94 134,342.95 138.4,341.55" fill="none" stroke="#1c1c1c" stroke-width="0.6" stroke-linejoin="round" />
<polyline points="41.3,335.45 44.3,332.09 51.57,344.52 63,345.6 70,345.26 75,345.12 82,344.54 87.6,343.28 94,345.28 100,344.53 107,345.31 113,346.34 120,345.27 128,341.85 134,343.26 138.4,342.29" fill="none" stroke="#1c1c1c" stroke-width="0.6" stroke-linejoin="round" />
<polyline points="41.3,336.07 44.3,333.45 51.89,345.68 63,345.78 70,345.37 75,344.82 82,344.8 87.6,343.94 94,345.34 100,345.95 107,346.6 113,346.57 120,343.97 128,343.28 134,343.61 138.4,342.21" fill="none" stroke="#1c1c1c" stroke-width="0.6" stroke-linejoin="round" />
<polyline points="41.3,336.69 44.3,333.7 56.77,346.23 63,344.55 70,344.82 75,346.55 82,345.23 87.6,344.39 94,345.48 100,345.55 107,346.77 113,346.77 120,344.33 128,341.78 134,342.66 138.4,343.46" fill="none" stroke="#1c1c1c" stroke-width="0.6" stroke-linejoin="round" />
<polyline points="41.3,337.31 44.3,333.2 55.17,345.74 63,346.15 70,346.16 75,345.76 82,346 87.6,345.34 94,345.99 100,346.42 107,345.69 113,347.87 120,345.13 128,342.81 134,343.3 138.4,342.72" fill="none" stroke="#1c1c1c" stroke-width="0.6" stroke-linejoin="round" />
<polyline points="41.3,337.93 44.3,332.65 62.84,345.67 70,347.07 75,346.78 82,345.26 87.6,344.65 94,345.68 100,346.31 107,346.61 113,346.93 120,345.05 128,344.03 134,344 138.4,342.93" fill="none" stroke="#1c1c1c" stroke-width="0.6" stroke-linejoin="round" />
<polyline points="41.3,338.55 44.3,335.11 57.91,345.8 63,347.07 70,345.77 75,345.88 82,345.59 87.6,345.76 94,345.84 100,346.15 107,348.02 113,347.87 120,346.56 128,342.59 134,344.38 138.4,343.29" fill="none" stroke="#1c1c1c" stroke-width="0.6" stroke-linejoin="round" />
<polyline points="41.3,339.16 44.3,334.35 61.06,346.81 70,346.95 75,347.05 82,346.68 87.6,345.29 94,345.49 100,346.57 107,347.52 113,347.59 120,346.31 128,343.79 134,343.4 138.4,344.67" fill="none" stroke="#1c1c1c" stroke-width="0.6" stroke-linejoin="round" />
<polyline points="41.3,339.78 44.3,334.87 55.07,347.32 63,347.8 70,347.38 75,347.04 82,345.99 87.6,345.09 94,345.84 100,347.72 107,346.87 113,349.46 120,346.92 128,344.7 134,343.56 138.4,344.82" fill="none" stroke="#1c1c1c" stroke-width="0.6" stroke-linejoin="round" />
<polyline points="41.3,340.4 44.3,332.46 59.12,347.57 63,347.54 70,347.4 75,348.27 82,346.18 87.6,345.41 94,347.3 100,346.11 107,347.86 113,348.74 120,347.55 128,344.14 134,344.77 138.4,344.8" fill="none" stroke="#1c1c1c" stroke-width="0.6" stroke-linejoin="round" />
<polyline points="164.2,333 166.9,332.24 175.64,342.71 190,343.76 198,343.53 206,344.44 215,343.82 222,342.53 230,343.39 237,342.53 243,343.27 249,346.33 255,346.68 260.8,344.25" fill="none" stroke="#1c1c1c" stroke-width="0.6" stroke-linejoin="round" />
<polyline points="164.2,334.2 166.9,332.72 183.22,344.69 190,343.41 198,345.5 206,344.12 215,343.37 222,343.98 230,344.2 237,343.82 243,343.39 249,346.68 255,345.71 260.8,345.71" fill="none" stroke="#1c1c1c" stroke-width="0.6" stroke-linejoin="round" />
<polyline points="164.2,335.4 166.9,329.97 180.07,343.79 190,343.99 198,344.57 206,345.28 215,344.62 222,344.89 230,344.78 237,343.52 243,344.73 249,346.24 255,347.63 260.8,345.12" fill="none" stroke="#1c1c1c" stroke-width="0.6" stroke-linejoin="round" />
<polyline points="164.2,336.6 166.9,333.2 178,344.76 190,345.31 198,345.21 206,345 215,345.15 222,345.28 230,344.05 237,344.06 243,344.52 249,347.73 255,348.36 260.8,345.42" fill="none" stroke="#1c1c1c" stroke-width="0.6" stroke-linejoin="round" />
<polyline points="164.2,337.8 166.9,331.22 174.35,345.87 190,346.55 198,346.81 206,346.37 215,344.9 222,344.85 230,344.92 237,344.1 243,344.7 249,348.57 255,347.9 260.8,347.29" fill="none" stroke="#1c1c1c" stroke-width="0.6" stroke-linejoin="round" />
<polyline points="164.2,339 166.9,332.3 183.08,346.83 190,346.72 198,346.8 206,346.75 215,346.02 222,345.31 230,345.17 237,345.44 243,345.89 249,349.16 255,348.89 260.8,347.71" fill="none" stroke="#1c1c1c" stroke-width="0.6" stroke-linejoin="round" />
<polyline points="164.2,334 166.9,327.7 183,342.7" fill="none" stroke="#1c1c1c" stroke-width="0.7" stroke-linejoin="round" />
<polyline points="164.2,336 166.9,331 183,338 192.3,335.8 200.4,332.9 207.3,331.7 210,327.9 215.6,322.4 219.7,321 226.7,312.6 235.1,301.5 243.4,291.7 251.1,284" fill="none" stroke="#1c1c1c" stroke-width="0.7" stroke-linejoin="round" />
<polyline points="164.2,335 166.9,332 183,343.3 191,336.5 200.4,333.5 207.3,333 214.2,330.7 219.7,332.1 229.5,327.2 242,318.2 250.4,316.8 256,317.5 260.1,315.4" fill="none" stroke="#1c1c1c" stroke-width="0.7" stroke-linejoin="round" />
<polyline points="164.2,337 166.9,333 183,344 200,345 210,343.2 224,339.1 235.1,333.5 240,327.9 243.4,318.9 251.1,320.3" fill="none" stroke="#1c1c1c" stroke-width="0.7" stroke-linejoin="round" />
<polyline points="164.2,338 166.9,334 183,344.5 205,343.5 237.9,341.9 260.1,339.8" fill="none" stroke="#1c1c1c" stroke-width="0.7" stroke-linejoin="round" />
<polyline points="195,344 207,341.5 212,340.4" fill="none" stroke="#1c1c1c" stroke-width="0.7" stroke-linejoin="round" />
<polyline points="287.6,336.9 290.3,325.1 297.8,326 305.9,327.7 312.3,334 322,336.9 330,334.8 336.9,331.3 343.8,332.5 351.3,331.3 360.6,322.1 366.3,322.9" fill="none" stroke="#1c1c1c" stroke-width="0.72" stroke-linejoin="round" />
<polyline points="287.6,338 290.3,325.4 299,327.1 305.9,340.4 311.7,338 318.6,342.7 330,336 338,336.5 342.7,332.8" fill="none" stroke="#1c1c1c" stroke-width="0.72" stroke-linejoin="round" />
<polyline points="287.6,338 290.3,334.6 297.8,344.4 318.6,345.6 344,345 360,345.2 373.8,346.3" fill="none" stroke="#1c1c1c" stroke-width="0.72" stroke-linejoin="round" />
<polyline points="287.6,339 290.3,335.8 299,338 307,343.8 319.8,347.3" fill="none" stroke="#1c1c1c" stroke-width="0.72" stroke-linejoin="round" />
<polyline points="287.6,337 290.3,326.5 299,327.5 304,336 311,334 322,342.5 340,342.5 355,341.5 362,343.5 373.8,345.8" fill="none" stroke="#1c1c1c" stroke-width="0.72" stroke-linejoin="round" />
<polyline points="287.6,338.5 290.3,335 300,342 315,344.5 330,344.5 350,343.8 365,344.5 373,345.5" fill="none" stroke="#1c1c1c" stroke-width="0.72" stroke-linejoin="round" />
<polyline points="287.6,337.5 290.3,333.5 302,343 320,344 340,343.5 350,343 360,344.5 370,344.8" fill="none" stroke="#1c1c1c" stroke-width="0.72" stroke-linejoin="round" />
<polyline points="287.6,336 290.3,326 299,331 306,339 318,343 335,344.5 345,344 348,340.5" fill="none" stroke="#1c1c1c" stroke-width="0.72" stroke-linejoin="round" />
<polyline points="287.6,339.5 290.3,336.5 298,344 325,345.5 350,345.8 372,346.5" fill="none" stroke="#1c1c1c" stroke-width="0.72" stroke-linejoin="round" />
<polyline points="410.8,333.1 413.7,331.27 429.26,342.88 434,342.82 442,343.57 450,343.56 458,343.32 466,343.11 474,342.64 482,342.47 490,343.01 498,342.1 506.9,342.38" fill="none" stroke="#1c1c1c" stroke-width="0.6" stroke-linejoin="round" />
<polyline points="410.8,333.72 413.7,335.51 432.12,344.18 442,343.4 450,343.38 458,343.97 466,343.54 474,342.78 482,343.38 490,343.53 498,343.15 506.9,341.88" fill="none" stroke="#1c1c1c" stroke-width="0.6" stroke-linejoin="round" />
<polyline points="410.8,334.34 413.7,332.09 420.09,344.18 434,343.33 442,344.43 450,344.1 458,343.98 466,343.7 474,344.01 482,343.49 490,342.86 498,342.24 506.9,342.54" fill="none" stroke="#1c1c1c" stroke-width="0.6" stroke-linejoin="round" />
<polyline points="410.8,334.95 413.7,336.46 422.03,343.9 434,344.22 442,343.76 450,343.81 458,344.36 466,343.79 474,343.58 482,343.54 490,342.77 498,343.42 506.9,342.95" fill="none" stroke="#1c1c1c" stroke-width="0.6" stroke-linejoin="round" />
<polyline points="410.8,335.57 413.7,333.74 424.75,344.44 434,344.76 442,344.61 450,343.85 458,343.74 466,343.57 474,343.29 482,344.04 490,343.72 498,342.85 506.9,343.7" fill="none" stroke="#1c1c1c" stroke-width="0.6" stroke-linejoin="round" />
<polyline points="410.8,336.19 413.7,334.41 431.09,344.89 434,344.77 442,344.82 450,345.52 458,343.95 466,344.66 474,344.82 482,344.01 490,344.39 498,343.05 506.9,343.15" fill="none" stroke="#1c1c1c" stroke-width="0.6" stroke-linejoin="round" />
<polyline points="410.8,336.81 413.7,331.9 425.56,344.76 434,344.15 442,344.75 450,345.54 458,344.45 466,344 474,345.23 482,344.34 490,343.35 498,343.91 506.9,342.95" fill="none" stroke="#1c1c1c" stroke-width="0.6" stroke-linejoin="round" />
<polyline points="410.8,337.43 413.7,331.14 430.34,345.08 434,344.84 442,345.27 450,345.32 458,344.94 466,344.2 474,345.1 482,344.95 490,344.23 498,343.88 506.9,343.93" fill="none" stroke="#1c1c1c" stroke-width="0.6" stroke-linejoin="round" />
<polyline points="410.8,338.05 413.7,333.3 425.81,345.52 434,345.84 442,344.92 450,344.93 458,345.7 466,345.8 474,345.28 482,344.43 490,343.88 498,344.79 506.9,344.68" fill="none" stroke="#1c1c1c" stroke-width="0.6" stroke-linejoin="round" />
<polyline points="410.8,338.66 413.7,335.31 430.3,346.06 434,345.47 442,346.41 450,345.31 458,344.8 466,345.85 474,345.47 482,345.46 490,344.24 498,344.19 506.9,344.37" fill="none" stroke="#1c1c1c" stroke-width="0.6" stroke-linejoin="round" />
<polyline points="410.8,339.28 413.7,330.45 424.6,345.52 434,346.36 442,346.31 450,345.76 458,345.57 466,345.56 474,345.77 482,346.02 490,344.28 498,345.42 506.9,344.95" fill="none" stroke="#1c1c1c" stroke-width="0.6" stroke-linejoin="round" />
<polyline points="410.8,339.9 413.7,330.32 423.59,345.19 434,345.44 442,345.65 450,345.58 458,346.23 466,345.68 474,344.99 482,346.01 490,345.84 498,344.6 506.9,345.23" fill="none" stroke="#1c1c1c" stroke-width="0.6" stroke-linejoin="round" />
<line x1="12.7" y1="178" x2="12.7" y2="266.3" stroke="#4a4a4a" stroke-width="1.0" />
<path d="M10.5,179.5 L12.7,174 L14.9,179.5 Z" fill="#222"/>
<text transform="translate(14.6,314.4) rotate(-90)" font-size="7.9" text-anchor="middle" fill="#1a1a1a" textLength="92" lengthAdjust="spacingAndGlyphs">Tumor burden (Total flux)</text>
<text x="39" y="377.8" font-size="7.9" text-anchor="start" font-weight="normal" fill="#1a1a1a"  textLength="88.4" lengthAdjust="spacingAndGlyphs">Days post T cell injection</text>
<line x1="130.5" y1="375.8" x2="506" y2="375.8" stroke="#333" stroke-width="1" />
<path d="M504.5,373.5 L511,375.8 L504.5,378.1 Z" fill="#222"/>
<line x1="85.5" y1="426.9" x2="85.5" y2="546.7" stroke="#111" stroke-width="1.1" />
<line x1="85" y1="546.2" x2="247.8" y2="546.2" stroke="#111" stroke-width="1.1" />
<line x1="82.6" y1="546.2" x2="85.5" y2="546.2" stroke="#111" stroke-width="0.9" />
<text x="79.6" y="547.8" font-size="4.5" text-anchor="end" fill="#1a1a1a" style="stroke-width:0.08px">3</text>
<text x="76.6" y="550.4" font-size="7.6" text-anchor="end" fill="#1a1a1a" textLength="7.4" lengthAdjust="spacingAndGlyphs">10</text>
<line x1="84.1" y1="537.41" x2="85.5" y2="537.41" stroke="#333" stroke-width="0.5" />
<line x1="84.1" y1="532.27" x2="85.5" y2="532.27" stroke="#333" stroke-width="0.5" />
<line x1="84.1" y1="528.62" x2="85.5" y2="528.62" stroke="#333" stroke-width="0.5" />
<line x1="84.1" y1="525.79" x2="85.5" y2="525.79" stroke="#333" stroke-width="0.5" />
<line x1="84.1" y1="523.48" x2="85.5" y2="523.48" stroke="#333" stroke-width="0.5" />
<line x1="84.1" y1="521.52" x2="85.5" y2="521.52" stroke="#333" stroke-width="0.5" />
<line x1="84.1" y1="519.83" x2="85.5" y2="519.83" stroke="#333" stroke-width="0.5" />
<line x1="84.1" y1="518.34" x2="85.5" y2="518.34" stroke="#333" stroke-width="0.5" />
<line x1="82.6" y1="517" x2="85.5" y2="517" stroke="#111" stroke-width="0.9" />
<text x="79.6" y="518.6" font-size="4.5" text-anchor="end" fill="#1a1a1a" style="stroke-width:0.08px">4</text>
<text x="76.6" y="521.2" font-size="7.6" text-anchor="end" fill="#1a1a1a" textLength="7.4" lengthAdjust="spacingAndGlyphs">10</text>
<line x1="84.1" y1="508.21" x2="85.5" y2="508.21" stroke="#333" stroke-width="0.5" />
<line x1="84.1" y1="503.07" x2="85.5" y2="503.07" stroke="#333" stroke-width="0.5" />
<line x1="84.1" y1="499.42" x2="85.5" y2="499.42" stroke="#333" stroke-width="0.5" />
<line x1="84.1" y1="496.59" x2="85.5" y2="496.59" stroke="#333" stroke-width="0.5" />
<line x1="84.1" y1="494.28" x2="85.5" y2="494.28" stroke="#333" stroke-width="0.5" />
<line x1="84.1" y1="492.32" x2="85.5" y2="492.32" stroke="#333" stroke-width="0.5" />
<line x1="84.1" y1="490.63" x2="85.5" y2="490.63" stroke="#333" stroke-width="0.5" />
<line x1="84.1" y1="489.14" x2="85.5" y2="489.14" stroke="#333" stroke-width="0.5" />
<line x1="82.6" y1="487.8" x2="85.5" y2="487.8" stroke="#111" stroke-width="0.9" />
<text x="79.6" y="489.4" font-size="4.5" text-anchor="end" fill="#1a1a1a" style="stroke-width:0.08px">5</text>
<text x="76.6" y="492" font-size="7.6" text-anchor="end" fill="#1a1a1a" textLength="7.4" lengthAdjust="spacingAndGlyphs">10</text>
<line x1="84.1" y1="479.01" x2="85.5" y2="479.01" stroke="#333" stroke-width="0.5" />
<line x1="84.1" y1="473.87" x2="85.5" y2="473.87" stroke="#333" stroke-width="0.5" />
<line x1="84.1" y1="470.22" x2="85.5" y2="470.22" stroke="#333" stroke-width="0.5" />
<line x1="84.1" y1="467.39" x2="85.5" y2="467.39" stroke="#333" stroke-width="0.5" />
<line x1="84.1" y1="465.08" x2="85.5" y2="465.08" stroke="#333" stroke-width="0.5" />
<line x1="84.1" y1="463.12" x2="85.5" y2="463.12" stroke="#333" stroke-width="0.5" />
<line x1="84.1" y1="461.43" x2="85.5" y2="461.43" stroke="#333" stroke-width="0.5" />
<line x1="84.1" y1="459.94" x2="85.5" y2="459.94" stroke="#333" stroke-width="0.5" />
<line x1="82.6" y1="458.6" x2="85.5" y2="458.6" stroke="#111" stroke-width="0.9" />
<text x="79.6" y="460.2" font-size="4.5" text-anchor="end" fill="#1a1a1a" style="stroke-width:0.08px">6</text>
<text x="76.6" y="462.8" font-size="7.6" text-anchor="end" fill="#1a1a1a" textLength="7.4" lengthAdjust="spacingAndGlyphs">10</text>
<line x1="84.1" y1="449.81" x2="85.5" y2="449.81" stroke="#333" stroke-width="0.5" />
<line x1="84.1" y1="444.67" x2="85.5" y2="444.67" stroke="#333" stroke-width="0.5" />
<line x1="84.1" y1="441.02" x2="85.5" y2="441.02" stroke="#333" stroke-width="0.5" />
<line x1="84.1" y1="438.19" x2="85.5" y2="438.19" stroke="#333" stroke-width="0.5" />
<line x1="84.1" y1="435.88" x2="85.5" y2="435.88" stroke="#333" stroke-width="0.5" />
<line x1="84.1" y1="433.92" x2="85.5" y2="433.92" stroke="#333" stroke-width="0.5" />
<line x1="84.1" y1="432.23" x2="85.5" y2="432.23" stroke="#333" stroke-width="0.5" />
<line x1="84.1" y1="430.74" x2="85.5" y2="430.74" stroke="#333" stroke-width="0.5" />
<line x1="82.6" y1="429.4" x2="85.5" y2="429.4" stroke="#111" stroke-width="0.9" />
<text x="79.6" y="431" font-size="4.5" text-anchor="end" fill="#1a1a1a" style="stroke-width:0.08px">7</text>
<text x="76.6" y="433.6" font-size="7.6" text-anchor="end" fill="#1a1a1a" textLength="7.4" lengthAdjust="spacingAndGlyphs">10</text>
<line x1="100.4" y1="546" x2="100.4" y2="548.6" stroke="#111" stroke-width="0.9" />
<line x1="124.1" y1="546" x2="124.1" y2="548.6" stroke="#111" stroke-width="0.9" />
<line x1="148" y1="546" x2="148" y2="548.6" stroke="#111" stroke-width="0.9" />
<line x1="172.4" y1="546" x2="172.4" y2="548.6" stroke="#111" stroke-width="0.9" />
<line x1="193.8" y1="546" x2="193.8" y2="548.6" stroke="#111" stroke-width="0.9" />
<line x1="213.9" y1="546" x2="213.9" y2="548.6" stroke="#111" stroke-width="0.9" />
<line x1="241.4" y1="546" x2="241.4" y2="548.6" stroke="#111" stroke-width="0.9" />
<text transform="translate(62.2,485.5) rotate(-90)" font-size="7.6" text-anchor="middle" fill="#1a1a1a">CAR+ cell number</text>
<text x="82.9" y="557.6" font-size="7.5" text-anchor="end" font-weight="normal" fill="#1a1a1a" >C1</text>
<text x="100.4" y="557.3" font-size="7.2" text-anchor="middle" font-weight="normal" fill="#1a1a1a" >–</text>
<text x="124.1" y="557.3" font-size="7.2" text-anchor="middle" font-weight="normal" fill="#1a1a1a" >–</text>
<text x="148" y="557.3" font-size="7.2" text-anchor="middle" font-weight="normal" fill="#1a1a1a" >+</text>
<text x="172.4" y="557.3" font-size="7.2" text-anchor="middle" font-weight="normal" fill="#1a1a1a" >–</text>
<text x="193.8" y="557.3" font-size="7.2" text-anchor="middle" font-weight="normal" fill="#1a1a1a" >+</text>
<text x="213.9" y="557.3" font-size="7.2" text-anchor="middle" font-weight="normal" fill="#1a1a1a" >–</text>
<text x="241.4" y="557.3" font-size="7.2" text-anchor="middle" font-weight="normal" fill="#1a1a1a" >+</text>
<text x="83.8" y="571.4" font-size="7.5" text-anchor="end" font-weight="normal" fill="#1a1a1a" >CAR</text>
<text x="100.4" y="571.4" font-size="7.5" text-anchor="middle" font-weight="normal" fill="#1a1a1a" >TRAC</text>
<line x1="120.5" y1="561.4" x2="151.3" y2="561.4" stroke="#555" stroke-width="1.1" />
<text x="135.6" y="571.4" font-size="7.5" text-anchor="middle" font-weight="normal" fill="#1a1a1a"  textLength="23.7" lengthAdjust="spacingAndGlyphs">GSH 1</text>
<line x1="168" y1="561.4" x2="197.6" y2="561.4" stroke="#555" stroke-width="1.1" />
<text x="182" y="571.4" font-size="7.5" text-anchor="middle" font-weight="normal" fill="#1a1a1a"  textLength="23.7" lengthAdjust="spacingAndGlyphs">GSH 4</text>
<line x1="211.7" y1="561.4" x2="242" y2="561.4" stroke="#555" stroke-width="1.1" />
<text x="227.5" y="571.4" font-size="7.5" text-anchor="middle" font-weight="normal" fill="#1a1a1a"  textLength="23.7" lengthAdjust="spacingAndGlyphs">GSH 6</text>
<line x1="95.5" y1="414.1" x2="211.6" y2="414.1" stroke="#555" stroke-width="1.1" />
<text x="153.55" y="415" font-size="9.5" text-anchor="middle" font-weight="normal" fill="#2a2a2a"  textLength="10" lengthAdjust="spacingAndGlyphs">***</text>
<line x1="95.5" y1="422" x2="234.7" y2="422" stroke="#555" stroke-width="1.1" />
<text x="165.1" y="422.9" font-size="9.5" text-anchor="middle" font-weight="normal" fill="#2a2a2a"  textLength="6.7" lengthAdjust="spacingAndGlyphs">**</text>
<line x1="95.5" y1="430" x2="165.4" y2="430" stroke="#555" stroke-width="1.1" />
<text x="130.45" y="427.7" font-size="7.0" text-anchor="middle" font-weight="normal" fill="#1a1a1a" >ns</text>
<line x1="95.5" y1="439.3" x2="144" y2="439.3" stroke="#555" stroke-width="1.1" />
<text x="119.75" y="440.2" font-size="9.5" text-anchor="middle" font-weight="normal" fill="#2a2a2a"  textLength="6.7" lengthAdjust="spacingAndGlyphs">**</text>
<line x1="95.5" y1="448.8" x2="121.3" y2="448.8" stroke="#555" stroke-width="1.1" />
<text x="108.4" y="449.7" font-size="9.5" text-anchor="middle" font-weight="normal" fill="#2a2a2a"  textLength="6.7" lengthAdjust="spacingAndGlyphs">**</text>
<line x1="119.6" y1="456.3" x2="147.2" y2="456.3" stroke="#555" stroke-width="1.1" />
<text x="133.4" y="457.2" font-size="9.5" text-anchor="middle" font-weight="normal" fill="#2a2a2a"  textLength="3.4" lengthAdjust="spacingAndGlyphs">*</text>
<line x1="168.3" y1="466.7" x2="190.6" y2="466.7" stroke="#555" stroke-width="1.1" />
<text x="179.45" y="464.4" font-size="7.0" text-anchor="middle" font-weight="normal" fill="#1a1a1a" >ns</text>
<line x1="215" y1="435.8" x2="237.2" y2="435.8" stroke="#555" stroke-width="1.1" />
<text x="226.1" y="436.7" font-size="9.5" text-anchor="middle" font-weight="normal" fill="#2a2a2a"  textLength="6.7" lengthAdjust="spacingAndGlyphs">**</text>
<line x1="101" y1="483.3" x2="101" y2="491.3" stroke="#2e1848" stroke-width="0.9" />
<line x1="99" y1="483.3" x2="103" y2="483.3" stroke="#2e1848" stroke-width="0.9" />
<line x1="99" y1="491.3" x2="103" y2="491.3" stroke="#2e1848" stroke-width="0.9" />
<line x1="95.7" y1="486.9" x2="106.3" y2="486.9" stroke="#2e1848" stroke-width="0.9" />
<circle cx="100.8" cy="480.6" r="1.5" fill="#2e1848"/>
<circle cx="94.7" cy="487.6" r="1.5" fill="#2e1848"/>
<circle cx="106.8" cy="487.3" r="1.5" fill="#2e1848"/>
<circle cx="98.8" cy="491.1" r="1.5" fill="#2e1848"/>
<circle cx="102.5" cy="490.9" r="1.5" fill="#2e1848"/>
<circle cx="99.5" cy="485.5" r="1.5" fill="#2e1848"/>
<circle cx="103" cy="487.5" r="1.5" fill="#2e1848"/>
<line x1="123.4" y1="472.6" x2="123.4" y2="481.8" stroke="#6e98d2" stroke-width="0.8" />
<line x1="121.2" y1="472.6" x2="125.6" y2="472.6" stroke="#6e98d2" stroke-width="0.8" />
<line x1="121.2" y1="481.8" x2="125.6" y2="481.8" stroke="#6e98d2" stroke-width="0.8" />
<line x1="116.1" y1="476.6" x2="130.7" y2="476.6" stroke="#6e98d2" stroke-width="0.8" />
<path d="M123.4,471.5 L124.7,472.8 L123.4,474.1 L122.1,472.8 Z" fill="none" stroke="#6e98d2" stroke-width="0.7"/>
<path d="M120.3,475 L121.6,476.3 L120.3,477.6 L119,476.3 Z" fill="none" stroke="#6e98d2" stroke-width="0.7"/>
<path d="M126.5,475 L127.8,476.3 L126.5,477.6 L125.2,476.3 Z" fill="none" stroke="#6e98d2" stroke-width="0.7"/>
<path d="M123.4,480 L124.7,481.3 L123.4,482.6 L122.1,481.3 Z" fill="none" stroke="#6e98d2" stroke-width="0.7"/>
<path d="M123.4,473.3 L124.7,474.6 L123.4,475.9 L122.1,474.6 Z" fill="none" stroke="#6e98d2" stroke-width="0.7"/>
<path d="M121.5,477.9 L122.8,479.2 L121.5,480.5 L120.2,479.2 Z" fill="none" stroke="#6e98d2" stroke-width="0.7"/>
<path d="M125.3,477.9 L126.6,479.2 L125.3,480.5 L124,479.2 Z" fill="none" stroke="#6e98d2" stroke-width="0.7"/>
<line x1="146.1" y1="462.5" x2="146.1" y2="469.4" stroke="#1c2b5e" stroke-width="0.9" />
<line x1="143.9" y1="462.5" x2="148.3" y2="462.5" stroke="#1c2b5e" stroke-width="0.9" />
<line x1="143.9" y1="469.4" x2="148.3" y2="469.4" stroke="#1c2b5e" stroke-width="0.9" />
<line x1="138.6" y1="464.6" x2="153.6" y2="464.6" stroke="#1c2b5e" stroke-width="0.9" />
<rect x="138.4" y="462.4" width="2.8" height="2.8" fill="#1c2b5e"/>
<rect x="151.2" y="462.4" width="2.8" height="2.8" fill="#1c2b5e"/>
<rect x="144.7" y="467.4" width="2.8" height="2.8" fill="#1c2b5e"/>
<rect x="142.6" y="463.2" width="2.8" height="2.8" fill="#1c2b5e"/>
<rect x="146.8" y="463.2" width="2.8" height="2.8" fill="#1c2b5e"/>
<rect x="144.7" y="461.2" width="2.8" height="2.8" fill="#1c2b5e"/>
<line x1="169.2" y1="482" x2="169.2" y2="488.3" stroke="#5a4526" stroke-width="0.8" />
<line x1="167.2" y1="482" x2="171.2" y2="482" stroke="#5a4526" stroke-width="0.8" />
<line x1="167.2" y1="488.3" x2="171.2" y2="488.3" stroke="#5a4526" stroke-width="0.8" />
<line x1="161.7" y1="484.3" x2="176.7" y2="484.3" stroke="#5a4526" stroke-width="0.8" />
<path d="M160.75,484.46 L163.65,484.46 L162.2,481.94 Z" fill="#ad8445" stroke="#ad8445" stroke-width="0.4"/>
<path d="M164.35,484.26 L167.25,484.26 L165.8,481.74 Z" fill="#ad8445" stroke="#ad8445" stroke-width="0.4"/>
<path d="M167.75,484.06 L170.65,484.06 L169.2,481.54 Z" fill="#ad8445" stroke="#ad8445" stroke-width="0.4"/>
<path d="M171.15,484.26 L174.05,484.26 L172.6,481.74 Z" fill="#ad8445" stroke="#ad8445" stroke-width="0.4"/>
<path d="M174.55,484.46 L177.45,484.46 L176,481.94 Z" fill="#ad8445" stroke="#ad8445" stroke-width="0.4"/>
<path d="M167.75,489.06 L170.65,489.06 L169.2,486.54 Z" fill="#ad8445" stroke="#ad8445" stroke-width="0.4"/>
<line x1="191.8" y1="482.6" x2="191.8" y2="495.4" stroke="#5a4020" stroke-width="0.8" />
<line x1="189.6" y1="482.6" x2="194" y2="482.6" stroke="#5a4020" stroke-width="0.8" />
<line x1="189.6" y1="495.4" x2="194" y2="495.4" stroke="#5a4020" stroke-width="0.8" />
<line x1="184.6" y1="488.5" x2="199" y2="488.5" stroke="#5a4020" stroke-width="0.8" />
<path d="M190.35,484.76 L193.25,484.76 L191.8,482.24 Z" fill="#a87228" stroke="#a87228" stroke-width="0.4"/>
<path d="M187.75,495.76 L190.65,495.76 L189.2,493.24 Z" fill="#a87228" stroke="#a87228" stroke-width="0.4"/>
<path d="M192.95,495.76 L195.85,495.76 L194.4,493.24 Z" fill="#a87228" stroke="#a87228" stroke-width="0.4"/>
<path d="M190.35,492.76 L193.25,492.76 L191.8,490.24 Z" fill="#a87228" stroke="#a87228" stroke-width="0.4"/>
<line x1="214.3" y1="443.5" x2="214.3" y2="453.1" stroke="#7a1a28" stroke-width="0.9" />
<line x1="211.7" y1="443.5" x2="216.9" y2="443.5" stroke="#7a1a28" stroke-width="0.9" />
<line x1="211.7" y1="453.1" x2="216.9" y2="453.1" stroke="#7a1a28" stroke-width="0.9" />
<line x1="207" y1="448.8" x2="221.6" y2="448.8" stroke="#7a1a28" stroke-width="0.9" />
<path d="M207.95,443.15 L211.05,443.15 L209.5,445.85 Z" fill="#a3132a" stroke="#a3132a" stroke-width="0.4"/>
<path d="M216.95,443.15 L220.05,443.15 L218.5,445.85 Z" fill="#a3132a" stroke="#a3132a" stroke-width="0.4"/>
<path d="M212.75,446.65 L215.85,446.65 L214.3,449.35 Z" fill="#a3132a" stroke="#a3132a" stroke-width="0.4"/>
<path d="M207.05,450.95 L210.15,450.95 L208.6,453.65 Z" fill="#a3132a" stroke="#a3132a" stroke-width="0.4"/>
<path d="M218.45,450.95 L221.55,450.95 L220,453.65 Z" fill="#a3132a" stroke="#a3132a" stroke-width="0.4"/>
<path d="M209.95,450.95 L213.05,450.95 L211.5,453.65 Z" fill="#a3132a" stroke="#a3132a" stroke-width="0.4"/>
<path d="M215.45,450.95 L218.55,450.95 L217,453.65 Z" fill="#a3132a" stroke="#a3132a" stroke-width="0.4"/>
<line x1="237.7" y1="458.9" x2="237.7" y2="478.6" stroke="#444" stroke-width="0.9" />
<line x1="234.1" y1="458.9" x2="241.3" y2="458.9" stroke="#444" stroke-width="0.9" />
<line x1="234.1" y1="478.6" x2="241.3" y2="478.6" stroke="#444" stroke-width="0.9" />
<line x1="230.7" y1="465.3" x2="244.7" y2="465.3" stroke="#444" stroke-width="0.9" />
<path d="M236.6,456.54 L238.8,456.54 L237.7,458.46 Z" fill="none" stroke="#aaa" stroke-width="0.4"/>
<path d="M238.4,464.54 L240.6,464.54 L239.5,466.46 Z" fill="none" stroke="#aaa" stroke-width="0.4"/>
<path d="M236.6,479.54 L238.8,479.54 L237.7,481.46 Z" fill="none" stroke="#aaa" stroke-width="0.4"/>
<line x1="303.3" y1="430.5" x2="303.3" y2="544.6" stroke="#111" stroke-width="1.1" />
<line x1="302.8" y1="544.1" x2="469.8" y2="544.1" stroke="#111" stroke-width="1.1" />
<line x1="300.6" y1="544.1" x2="303.3" y2="544.1" stroke="#111" stroke-width="0.9" />
<text x="297" y="546.3" font-size="7.4" text-anchor="end" font-weight="normal" fill="#1a1a1a" >0</text>
<line x1="300.6" y1="533.02" x2="303.3" y2="533.02" stroke="#111" stroke-width="0.9" />
<text x="297" y="535.22" font-size="7.4" text-anchor="end" font-weight="normal" fill="#1a1a1a" >10</text>
<line x1="300.6" y1="521.94" x2="303.3" y2="521.94" stroke="#111" stroke-width="0.9" />
<text x="297" y="524.14" font-size="7.4" text-anchor="end" font-weight="normal" fill="#1a1a1a" >20</text>
<line x1="300.6" y1="510.86" x2="303.3" y2="510.86" stroke="#111" stroke-width="0.9" />
<text x="297" y="513.06" font-size="7.4" text-anchor="end" font-weight="normal" fill="#1a1a1a" >30</text>
<line x1="300.6" y1="499.78" x2="303.3" y2="499.78" stroke="#111" stroke-width="0.9" />
<text x="297" y="501.98" font-size="7.4" text-anchor="end" font-weight="normal" fill="#1a1a1a" >40</text>
<line x1="300.6" y1="488.7" x2="303.3" y2="488.7" stroke="#111" stroke-width="0.9" />
<text x="297" y="490.9" font-size="7.4" text-anchor="end" font-weight="normal" fill="#1a1a1a" >50</text>
<line x1="300.6" y1="477.62" x2="303.3" y2="477.62" stroke="#111" stroke-width="0.9" />
<text x="297" y="479.82" font-size="7.4" text-anchor="end" font-weight="normal" fill="#1a1a1a" >60</text>
<line x1="300.6" y1="466.54" x2="303.3" y2="466.54" stroke="#111" stroke-width="0.9" />
<text x="297" y="468.74" font-size="7.4" text-anchor="end" font-weight="normal" fill="#1a1a1a" >70</text>
<line x1="300.6" y1="455.46" x2="303.3" y2="455.46" stroke="#111" stroke-width="0.9" />
<text x="297" y="457.66" font-size="7.4" text-anchor="end" font-weight="normal" fill="#1a1a1a" >80</text>
<line x1="300.6" y1="444.38" x2="303.3" y2="444.38" stroke="#111" stroke-width="0.9" />
<text x="297" y="446.58" font-size="7.4" text-anchor="end" font-weight="normal" fill="#1a1a1a" >90</text>
<line x1="300.6" y1="433.3" x2="303.3" y2="433.3" stroke="#111" stroke-width="0.9" />
<text x="297" y="435.5" font-size="7.4" text-anchor="end" font-weight="normal" fill="#1a1a1a" >100</text>
<line x1="319.4" y1="544.1" x2="319.4" y2="547.2" stroke="#111" stroke-width="0.9" />
<line x1="342.9" y1="544.1" x2="342.9" y2="547.2" stroke="#111" stroke-width="0.9" />
<line x1="368.9" y1="544.1" x2="368.9" y2="547.2" stroke="#111" stroke-width="0.9" />
<line x1="392.8" y1="544.1" x2="392.8" y2="547.2" stroke="#111" stroke-width="0.9" />
<line x1="416.6" y1="544.1" x2="416.6" y2="547.2" stroke="#111" stroke-width="0.9" />
<line x1="440.3" y1="544.1" x2="440.3" y2="547.2" stroke="#111" stroke-width="0.9" />
<line x1="467.4" y1="544.1" x2="467.4" y2="547.2" stroke="#111" stroke-width="0.9" />
<text transform="translate(277.0,488) rotate(-90)" font-size="7.6" text-anchor="middle" fill="#1a1a1a">%Lysis</text>
<text x="302.2" y="557" font-size="7.5" text-anchor="end" font-weight="normal" fill="#1a1a1a" >C1</text>
<text x="319.4" y="556.6" font-size="7.2" text-anchor="middle" font-weight="normal" fill="#1a1a1a" >–</text>
<text x="342.9" y="556.6" font-size="7.2" text-anchor="middle" font-weight="normal" fill="#1a1a1a" >–</text>
<text x="368.9" y="556.6" font-size="7.2" text-anchor="middle" font-weight="normal" fill="#1a1a1a" >+</text>
<text x="392.8" y="556.6" font-size="7.2" text-anchor="middle" font-weight="normal" fill="#1a1a1a" >–</text>
<text x="416.6" y="556.6" font-size="7.2" text-anchor="middle" font-weight="normal" fill="#1a1a1a" >+</text>
<text x="440.3" y="556.6" font-size="7.2" text-anchor="middle" font-weight="normal" fill="#1a1a1a" >–</text>
<text x="467.4" y="556.6" font-size="7.2" text-anchor="middle" font-weight="normal" fill="#1a1a1a" >+</text>
<text x="303" y="571.2" font-size="7.5" text-anchor="end" font-weight="normal" fill="#1a1a1a" >CAR</text>
<text x="320" y="571.2" font-size="7.5" text-anchor="middle" font-weight="normal" fill="#1a1a1a" >TRAC</text>
<line x1="340.9" y1="561.7" x2="371" y2="561.7" stroke="#555" stroke-width="1.1" />
<text x="355.2" y="571.2" font-size="7.5" text-anchor="middle" font-weight="normal" fill="#1a1a1a"  textLength="23.9" lengthAdjust="spacingAndGlyphs">GSH 1</text>
<line x1="389.4" y1="561.7" x2="419.9" y2="561.7" stroke="#555" stroke-width="1.1" />
<text x="404.7" y="571.2" font-size="7.5" text-anchor="middle" font-weight="normal" fill="#1a1a1a"  textLength="23.9" lengthAdjust="spacingAndGlyphs">GSH 4</text>
<line x1="438.8" y1="561.7" x2="469" y2="561.7" stroke="#555" stroke-width="1.1" />
<text x="453.9" y="571.2" font-size="7.5" text-anchor="middle" font-weight="normal" fill="#1a1a1a"  textLength="23.9" lengthAdjust="spacingAndGlyphs">GSH 6</text>
<text x="342.9" y="538.6" font-size="7.6" text-anchor="middle" font-weight="normal" fill="#1a1a1a" >NA</text>
<line x1="320.4" y1="427.2" x2="436.1" y2="427.2" stroke="#555" stroke-width="1.1" />
<text x="378.6" y="428.1" font-size="9.5" text-anchor="middle" font-weight="normal" fill="#2a2a2a"  textLength="6.7" lengthAdjust="spacingAndGlyphs">**</text>
<line x1="438.6" y1="427.2" x2="463.3" y2="427.2" stroke="#555" stroke-width="1.1" />
<text x="450.95" y="424.9" font-size="7.0" text-anchor="middle" font-weight="normal" fill="#1a1a1a" >ns</text>
<line x1="320.2" y1="454.1" x2="390.3" y2="454.1" stroke="#555" stroke-width="1.1" />
<text x="355.3" y="455" font-size="9.5" text-anchor="middle" font-weight="normal" fill="#2a2a2a"  textLength="6.7" lengthAdjust="spacingAndGlyphs">**</text>
<line x1="319" y1="467.3" x2="366" y2="467.3" stroke="#555" stroke-width="1.1" />
<text x="342.5" y="465" font-size="7.0" text-anchor="middle" font-weight="normal" fill="#1a1a1a" >ns</text>
<line x1="388.3" y1="467.9" x2="414.6" y2="467.9" stroke="#555" stroke-width="1.1" />
<text x="401.45" y="465.6" font-size="7.0" text-anchor="middle" font-weight="normal" fill="#1a1a1a" >ns</text>
<line x1="320.5" y1="483.1" x2="320.5" y2="493" stroke="#2e1a3e" stroke-width="1.0" />
<line x1="317.2" y1="483.1" x2="323.8" y2="483.1" stroke="#2e1a3e" stroke-width="1.0" />
<line x1="317.2" y1="493" x2="323.8" y2="493" stroke="#2e1a3e" stroke-width="1.0" />
<line x1="312.3" y1="487.8" x2="328.7" y2="487.8" stroke="#2e1a3e" stroke-width="1.0" />
<circle cx="320.5" cy="483.1" r="2.1" fill="#3a1850"/>
<circle cx="320.5" cy="487.8" r="2.1" fill="#3a1850"/>
<circle cx="320.5" cy="493" r="2.1" fill="#3a1850"/>
<line x1="369.4" y1="491.2" x2="369.4" y2="509.6" stroke="#1f3070" stroke-width="0.9" />
<line x1="366.1" y1="491.2" x2="372.7" y2="491.2" stroke="#1f3070" stroke-width="0.9" />
<line x1="366.1" y1="509.6" x2="372.7" y2="509.6" stroke="#1f3070" stroke-width="0.9" />
<line x1="360.6" y1="500.9" x2="378.2" y2="500.9" stroke="#1f3070" stroke-width="0.9" />
<rect x="367.65" y="489.45" width="3.5" height="3.5" fill="#1f3070"/>
<rect x="367.65" y="500.85" width="3.5" height="3.5" fill="#1f3070"/>
<rect x="367.65" y="507.85" width="3.5" height="3.5" fill="#1f3070"/>
<line x1="391.4" y1="509.6" x2="391.4" y2="520.2" stroke="#2a2a2a" stroke-width="0.9" />
<line x1="388.1" y1="509.6" x2="394.7" y2="509.6" stroke="#2a2a2a" stroke-width="0.9" />
<line x1="388.1" y1="520.2" x2="394.7" y2="520.2" stroke="#2a2a2a" stroke-width="0.9" />
<line x1="383.2" y1="514.7" x2="399.6" y2="514.7" stroke="#2a2a2a" stroke-width="0.9" />
<path d="M385.45,513.7 L389.35,513.7 L387.4,510.3 Z" fill="#c47c2c" stroke="#c47c2c" stroke-width="0.4"/>
<path d="M393.95,513.7 L397.85,513.7 L395.9,510.3 Z" fill="#c47c2c" stroke="#c47c2c" stroke-width="0.4"/>
<path d="M389.45,522.9 L393.35,522.9 L391.4,519.5 Z" fill="#c47c2c" stroke="#c47c2c" stroke-width="0.4"/>
<line x1="415.2" y1="504.6" x2="415.2" y2="523.5" stroke="#2a2a2a" stroke-width="0.9" />
<line x1="411.8" y1="504.6" x2="418.6" y2="504.6" stroke="#2a2a2a" stroke-width="0.9" />
<line x1="411.8" y1="523.5" x2="418.6" y2="523.5" stroke="#2a2a2a" stroke-width="0.9" />
<line x1="406.6" y1="513.1" x2="423.8" y2="513.1" stroke="#2a2a2a" stroke-width="0.9" />
<path d="M409.65,509 L413.55,509 L411.6,505.6 Z" fill="#c47c2c" stroke="#c47c2c" stroke-width="0.4"/>
<path d="M418.45,511.3 L422.35,511.3 L420.4,507.9 Z" fill="#c47c2c" stroke="#c47c2c" stroke-width="0.4"/>
<path d="M413.25,524 L417.15,524 L415.2,520.6 Z" fill="#c47c2c" stroke="#c47c2c" stroke-width="0.4"/>
<line x1="438" y1="435.8" x2="438" y2="458.8" stroke="#6e5a64" stroke-width="0.9" />
<line x1="434" y1="435.8" x2="442" y2="435.8" stroke="#6e5a64" stroke-width="0.9" />
<line x1="434" y1="458.8" x2="442" y2="458.8" stroke="#6e5a64" stroke-width="0.9" />
<line x1="429.5" y1="447.9" x2="446.5" y2="447.9" stroke="#6e5a64" stroke-width="0.9" />
<circle cx="438" cy="435.8" r="1.6" fill="#6e1535"/>
<circle cx="438" cy="447.3" r="1.6" fill="#6e1535"/>
<circle cx="438" cy="458.8" r="1.6" fill="#6e1535"/>
<line x1="461" y1="446.3" x2="461" y2="449.6" stroke="#9a9a9a" stroke-width="0.7" />
<line x1="456" y1="446.3" x2="466" y2="446.3" stroke="#9a9a9a" stroke-width="0.7" />
<line x1="456" y1="449.6" x2="466" y2="449.6" stroke="#9a9a9a" stroke-width="0.7" />
<line x1="453.5" y1="448" x2="468.5" y2="448" stroke="#9a9a9a" stroke-width="0.7" />
<path d="M453.3,447.96 L455.7,447.96 L454.5,450.04 Z" fill="none" stroke="#aaa" stroke-width="0.4"/>
<path d="M459.8,445.76 L462.2,445.76 L461,447.84 Z" fill="none" stroke="#aaa" stroke-width="0.4"/>
<path d="M466.3,447.16 L468.7,447.16 L467.5,449.24 Z" fill="none" stroke="#aaa" stroke-width="0.4"/>
</svg></body></html>
